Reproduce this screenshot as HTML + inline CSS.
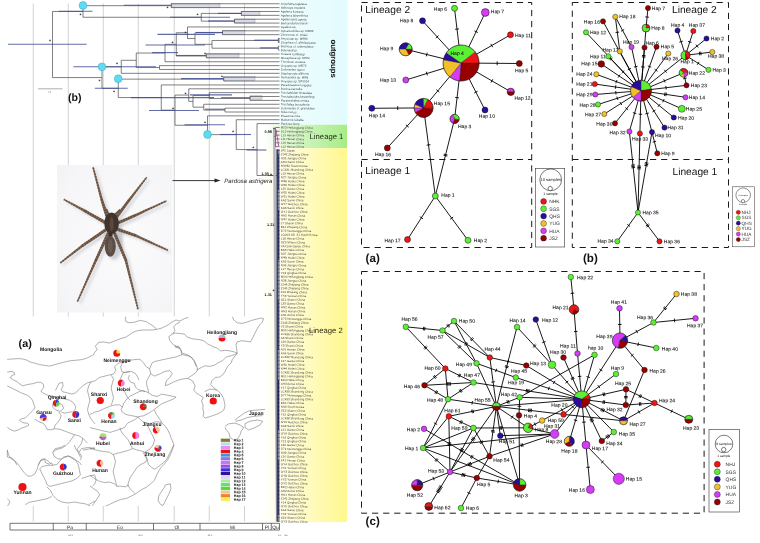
<!DOCTYPE html>
<html><head><meta charset="utf-8"><title>Pardosa astrigera phylogeography</title>
<style>html,body{margin:0;padding:0;background:#fff;} svg{display:block;} text{text-rendering:geometricPrecision;}</style></head>
<body><svg width="760" height="543" viewBox="0 0 760 543">
<rect width="760" height="543" fill="#fff"/>
<g stroke="#c6c6c6" stroke-width="0.8"><line x1="33.25" y1="3.5" x2="33.25" y2="521.5"/><line x1="68.25" y1="3.5" x2="68.25" y2="521.5"/><line x1="103.25" y1="3.5" x2="103.25" y2="521.5"/><line x1="138.25" y1="3.5" x2="138.25" y2="521.5"/><line x1="174.25" y1="3.5" x2="174.25" y2="521.5"/><line x1="209.25" y1="3.5" x2="209.25" y2="521.5"/><line x1="244.5" y1="3.5" x2="244.5" y2="521.5"/></g><defs>
<linearGradient id="gc" x1="0" x2="1" y1="0" y2="0"><stop offset="0" stop-color="#f0feff"/><stop offset="1" stop-color="#e2fbfd"/></linearGradient>
<linearGradient id="gg" x1="0" x2="1" y1="0" y2="0"><stop offset="0" stop-color="#f4fdf0" stop-opacity="0"/><stop offset="0.2" stop-color="#e6f9dc"/><stop offset="1" stop-color="#a6ec86"/></linearGradient>
<linearGradient id="gy" x1="0" x2="1" y1="0" y2="0"><stop offset="0" stop-color="#fffff4" stop-opacity="0"/><stop offset="0.22" stop-color="#fffde8"/><stop offset="1" stop-color="#fff88e"/></linearGradient>
</defs><rect x="279" y="0" width="68.5" height="124.7" fill="url(#gc)"/><rect x="262" y="124.7" width="85" height="23.4" fill="url(#gg)"/><rect x="258" y="148.1" width="89" height="374" fill="url(#gy)"/><g fill="#cfd2de" fill-opacity="0.8" stroke="#8a8fa6" stroke-width="0.4"><rect x="171.25" y="3.75" width="48.75" height="3.8499999999999996"/><rect x="241.25" y="11.5" width="18.75" height="3.8000000000000007"/><rect x="234.5" y="19.1" width="20.5" height="3.799999999999997"/><rect x="222.5" y="30.6" width="22.5" height="3.799999999999997"/><rect x="206.25" y="53.6" width="32.75" height="3.799999999999997"/><rect x="223.75" y="76.6" width="31.25" height="3.9000000000000057"/><rect x="250" y="95.8" width="12" height="3.799999999999997"/><rect x="278.3" y="38.3" width="1.1999999999999886" height="3.8000000000000043"/></g><path d="M171.25,3.75L279.50,3.75M171.25,7.62L279.50,7.62M171.25,3.75L171.25,7.62M83.00,5.68L171.25,5.68M241.25,11.48L279.50,11.48M241.25,15.35L279.50,15.35M241.25,11.48L241.25,15.35M201.25,13.41L241.25,13.41M234.50,19.21L279.50,19.21M234.50,23.08L279.50,23.08M234.50,19.21L234.50,23.08M201.25,21.15L234.50,21.15M201.25,13.41L201.25,21.15M83.00,17.28L201.25,17.28M83.00,5.68L83.00,17.28M52.50,11.48L83.00,11.48M187.50,26.95L279.50,26.95M222.50,30.81L279.50,30.81M222.50,34.68L279.50,34.68M222.50,30.81L222.50,34.68M195.00,32.74L222.50,32.74M278.30,38.54L279.50,38.54M278.30,42.41L279.50,42.41M278.30,38.54L278.30,42.41M212.00,40.48L278.30,40.48M278.30,46.28L279.50,46.28M278.30,50.14L279.50,50.14M278.30,46.28L278.30,50.14M212.00,48.21L278.30,48.21M212.00,40.48L212.00,48.21M195.00,44.34L212.00,44.34M195.00,32.74L195.00,44.34M187.50,38.54L195.00,38.54M187.50,26.95L187.50,38.54M176.25,32.74L187.50,32.74M206.25,54.01L279.50,54.01M206.25,57.87L279.50,57.87M206.25,54.01L206.25,57.87M176.25,55.94L206.25,55.94M176.25,32.74L176.25,55.94M165.00,44.34L176.25,44.34M165.00,61.74L279.50,61.74M165.00,44.34L165.00,61.74M136.25,53.04L165.00,53.04M159.50,65.61L279.50,65.61M159.50,69.47L279.50,69.47M159.50,65.61L159.50,69.47M136.25,67.54L159.50,67.54M136.25,53.04L136.25,67.54M121.25,60.29L136.25,60.29M121.25,73.34L279.50,73.34M121.25,60.29L121.25,73.34M102.00,66.81L121.25,66.81M223.75,77.20L279.50,77.20M223.75,81.07L279.50,81.07M223.75,77.20L223.75,81.07M118.25,79.14L223.75,79.14M161.25,84.94L279.50,84.94M188.75,88.80L279.50,88.80M209.25,92.67L279.50,92.67M250.00,96.53L279.50,96.53M250.00,100.40L279.50,100.40M250.00,96.53L250.00,100.40M209.25,98.47L250.00,98.47M209.25,92.67L209.25,98.47M193.00,95.57L209.25,95.57M203.75,104.27L279.50,104.27M225.00,108.13L279.50,108.13M225.00,112.00L279.50,112.00M225.00,108.13L225.00,112.00M203.75,110.06L225.00,110.06M203.75,104.27L203.75,110.06M193.00,107.17L203.75,107.17M193.00,95.57L193.00,107.17M188.75,101.37L193.00,101.37M188.75,88.80L188.75,101.37M175.00,95.08L188.75,95.08M207.50,115.86L279.50,115.86M236.25,119.73L279.50,119.73M257.00,123.60L279.50,123.60M257.00,175.50L275.00,175.50M257.00,123.60L257.00,175.50M236.25,149.55L257.00,149.55M236.25,119.73L236.25,149.55M207.50,134.64L236.25,134.64M207.50,115.86L207.50,134.64M175.00,125.25L207.50,125.25M175.00,95.08L175.00,125.25M161.25,110.17L175.00,110.17M161.25,84.94L161.25,110.17M118.25,97.55L161.25,97.55M118.25,79.14L118.25,97.55M102.00,88.34L118.25,88.34M102.00,66.81L102.00,88.34M52.50,77.58L102.00,77.58M52.50,11.48L52.50,77.58" stroke="#4a4a4a" stroke-width="0.7" fill="none"/><g stroke="#3a4690" stroke-opacity="0.8" stroke-width="1.1"><line x1="8" y1="44.25" x2="86.75" y2="44.25"/><line x1="58.75" y1="11.25" x2="92.5" y2="11.25"/><line x1="123.75" y1="5.2" x2="171.25" y2="5.2"/><line x1="170" y1="17.2" x2="230" y2="17.2"/><line x1="218" y1="13.4" x2="241.25" y2="13.4"/><line x1="208" y1="21" x2="234.5" y2="21"/><line x1="73.4" y1="66.8" x2="156" y2="66.8"/><line x1="94.8" y1="88.3" x2="127.7" y2="88.3"/><line x1="157.5" y1="34.4" x2="215" y2="34.4"/><line x1="145.5" y1="45" x2="205" y2="45"/><line x1="196" y1="32.5" x2="222.5" y2="32.5"/><line x1="176" y1="55.5" x2="206.25" y2="55.5"/><line x1="181" y1="78.6" x2="223.75" y2="78.6"/><line x1="131" y1="97.6" x2="214" y2="97.6"/><line x1="221" y1="97.7" x2="250" y2="97.7"/><line x1="149" y1="110.5" x2="199" y2="110.5"/><line x1="184.5" y1="124.8" x2="225" y2="124.8"/><line x1="220" y1="134.5" x2="251" y2="134.5"/><line x1="246.6" y1="150" x2="266.5" y2="150"/><line x1="254" y1="40.2" x2="278.3" y2="40.2"/><line x1="260" y1="47.9" x2="278.3" y2="47.9"/><line x1="152" y1="52.6" x2="178" y2="52.6"/><line x1="205" y1="109.2" x2="225" y2="109.2"/><line x1="190" y1="94.85" x2="232" y2="94.85"/><line x1="268" y1="175.5" x2="277" y2="175.5"/></g><path d="M273,128.8H275.6L276.6,300L277.4,521.5H275.9L274.1,300Z" fill="#b4b5bc"/><path d="M276.3,149H279.6V521.5H277.4L276.6,300Z" fill="#4e5270" opacity="0.7"/><path d="M277.2,150.45H279.6M277.2,154.28H279.6M277.2,158.10H279.6M277.2,161.93H279.6M277.2,165.75H279.6M277.2,169.57H279.6M277.2,173.40H279.6M277.2,177.22H279.6M277.2,181.05H279.6M277.2,184.88H279.6M277.2,188.70H279.6M277.2,192.53H279.6M277.2,196.35H279.6M277.2,200.18H279.6M277.2,204.00H279.6M277.2,207.82H279.6M277.2,211.65H279.6M277.2,215.48H279.6M277.2,219.30H279.6M277.2,223.12H279.6M277.2,226.95H279.6M277.2,230.78H279.6M277.2,234.60H279.6M277.2,238.43H279.6M277.2,242.25H279.6M277.2,246.07H279.6M277.2,249.90H279.6M277.2,253.73H279.6M277.2,257.55H279.6M277.2,261.38H279.6M277.2,265.20H279.6M277.2,269.02H279.6M277.2,272.85H279.6M277.2,276.68H279.6M277.2,280.50H279.6M277.2,284.33H279.6M277.2,288.15H279.6M277.2,291.98H279.6M277.2,295.80H279.6M277.2,299.62H279.6M277.2,303.45H279.6M277.2,307.27H279.6M277.2,311.10H279.6M277.2,314.93H279.6M277.2,318.75H279.6M277.2,322.58H279.6M277.2,326.40H279.6M277.2,330.23H279.6M277.2,334.05H279.6M277.2,337.88H279.6M277.2,341.70H279.6M277.2,345.52H279.6M277.2,349.35H279.6M277.2,353.18H279.6M277.2,357.00H279.6M277.2,360.83H279.6M277.2,364.65H279.6M277.2,368.48H279.6M277.2,372.30H279.6M277.2,376.12H279.6M277.2,379.95H279.6M277.2,383.78H279.6M277.2,387.60H279.6M277.2,391.43H279.6M277.2,395.25H279.6M277.2,399.07H279.6M277.2,402.90H279.6M277.2,406.73H279.6M277.2,410.55H279.6M277.2,414.38H279.6M277.2,418.20H279.6M277.2,422.03H279.6M277.2,425.85H279.6M277.2,429.68H279.6M277.2,433.50H279.6M277.2,437.32H279.6M277.2,441.15H279.6M277.2,444.98H279.6M277.2,448.80H279.6M277.2,452.62H279.6M277.2,456.45H279.6M277.2,460.28H279.6M277.2,464.10H279.6M277.2,467.93H279.6M277.2,471.75H279.6M277.2,475.57H279.6M277.2,479.40H279.6M277.2,483.23H279.6M277.2,487.05H279.6M277.2,490.88H279.6M277.2,494.70H279.6M277.2,498.53H279.6M277.2,502.35H279.6M277.2,506.18H279.6M277.2,510.00H279.6M277.2,513.83H279.6M277.2,517.65H279.6M277.2,521.48H279.6" stroke="#2a2f6a" stroke-width="0.6" fill="none"/><path d="M277.2,149.7V521.5" stroke="#24285e" stroke-width="1.0" fill="none"/><path d="M278.3,155V190M278.6,210V260M278.2,300V350M278.5,380V430M278.3,460V515" stroke="#1c2050" stroke-width="0.9" fill="none"/><path d="M275.5,127.50H279.6M275.5,131.32H279.6M275.5,135.15H279.6M275.5,138.97H279.6M275.5,142.80H279.6M275.5,146.62H279.6M275.5,127.50V146.62M274,136.3H275.5M276.2,130L278.6,146" stroke="#9c3a92" stroke-width="0.8" fill="none"/><circle cx="83" cy="5.5" r="3.9" fill="#5fdcef" stroke="#3aa6c4" stroke-width="0.5"/><circle cx="102" cy="66.8" r="3.9" fill="#5fdcef" stroke="#3aa6c4" stroke-width="0.5"/><circle cx="118.25" cy="78.75" r="3.9" fill="#5fdcef" stroke="#3aa6c4" stroke-width="0.5"/><circle cx="207.5" cy="134.5" r="3.9" fill="#5fdcef" stroke="#3aa6c4" stroke-width="0.5"/><g font-family="Liberation Sans, Arial, sans-serif" font-size="5.2" font-weight="bold" fill="#1a1a1a" text-anchor="middle"><text x="80.5" y="17.1">*</text><text x="50" y="43.35">*</text><text x="117" y="66.1">*</text><text x="99.5" y="83.1">*</text><text x="114" y="93.85">*</text><text x="167.5" y="10.1">*</text><text x="197.5" y="17.1">*</text><text x="185.5" y="34.6">*</text><text x="172.5" y="45.1">*</text><text x="205" y="56.1">*</text><text x="222" y="79.1">*</text><text x="185.5" y="96.35">*</text><text x="173" y="111.1">*</text><text x="205" y="124.6">*</text><text x="233" y="134.1">*</text><text x="253.3" y="150.4">*</text><text x="274" y="130.6">*</text><text x="271" y="176.9">*</text><text x="273.4" y="293.1">*</text></g><g font-family="Liberation Sans, Arial, sans-serif" font-size="3.8" font-weight="bold" fill="#1a1a1a"><text x="264.6" y="133">0.98</text><text x="261.5" y="175.3">1.00</text><text x="267" y="226">1.21</text><text x="264.6" y="296.2">1.31</text></g><g font-family="Liberation Sans, Arial, sans-serif" font-size="3" fill="#3c3c3c"><text transform="translate(280.8 4.800) rotate(0.4)">Anyphaea tugelana</text><text transform="translate(280.8 8.666) rotate(0.4)">Selenops insularis</text><text transform="translate(280.8 12.532) rotate(0.4)">Agelena koreana</text><text transform="translate(280.8 16.398) rotate(0.4)">Agelena labyrinthica</text><text transform="translate(280.8 20.264) rotate(0.4)">Agelenopsis aperta</text><text transform="translate(280.8 24.130) rotate(0.4)">Bertrandia bertrandi</text><text transform="translate(280.8 27.996) rotate(0.4)">Ayatkos sp.</text><text transform="translate(280.8 31.862) rotate(0.4)">Aphantochilus sp. MR96</text><text transform="translate(280.8 35.728) rotate(0.4)">Zimiromus cf. zeteki</text><text transform="translate(280.8 39.594) rotate(0.4)">Amycinae sp. MR96</text><text transform="translate(280.8 43.460) rotate(0.4)">Strophius cf. albofasciatus</text><text transform="translate(280.8 47.326) rotate(0.4)">Bistrious cf. tuberculatus</text><text transform="translate(280.8 51.192) rotate(0.4)">Bdymastrup.</text><text transform="translate(280.8 55.058) rotate(0.4)">Tinaeus furhlbergi</text><text transform="translate(280.8 58.924) rotate(0.4)">Mecaphesa sp. SP20</text><text transform="translate(280.8 62.790) rotate(0.4)">Thomisus onustus</text><text transform="translate(280.8 66.656) rotate(0.4)">Oxyopes sp. MR72</text><text transform="translate(280.8 70.522) rotate(0.4)">Dolomedes raptor</text><text transform="translate(280.8 74.388) rotate(0.4)">Stephanopis altifrons</text><text transform="translate(280.8 78.254) rotate(0.4)">Nematodes sp. MR8</text><text transform="translate(280.8 82.120) rotate(0.4)">Oxyopes sp. SP0014</text><text transform="translate(280.8 85.986) rotate(0.4)">Paradosaurus longipes</text><text transform="translate(280.8 89.852) rotate(0.4)">Borrhia karoella</text><text transform="translate(280.8 93.718) rotate(0.4)">Trechaleidae bicaudata</text><text transform="translate(280.8 97.584) rotate(0.4)">Trechaleoides keyserlingi</text><text transform="translate(280.8 101.450) rotate(0.4)">Paratrechalea ornata</text><text transform="translate(280.8 105.316) rotate(0.4)">Trechalea bucculenta</text><text transform="translate(280.8 109.182) rotate(0.4)">Dolomedes cf. grandidieri</text><text transform="translate(280.8 113.048) rotate(0.4)">Nilus curtus</text><text transform="translate(280.8 116.914) rotate(0.4)">Pisaurina mira</text><text transform="translate(280.8 120.780) rotate(0.4)">Maburnia fulvella</text><text transform="translate(280.8 124.646) rotate(0.4)">Pardosa laura</text><text transform="translate(280.8 128.550) rotate(0.4)">M53 Heilongjiang China</text><text transform="translate(280.8 132.375) rotate(0.4)">D15 Heilongjiang China</text><text transform="translate(280.8 136.200) rotate(0.4)">L15 Henan China</text><text transform="translate(280.8 140.025) rotate(0.4)">L11 Henan China</text><text transform="translate(280.8 143.850) rotate(0.4)">L16 Henan China</text><text transform="translate(280.8 147.675) rotate(0.4)">L12 Henan China</text><text transform="translate(280.8 151.500) rotate(0.4)">JP5 Japan</text><text transform="translate(280.8 155.325) rotate(0.4)">ZJ42 Zhejiang China</text><text transform="translate(280.8 159.150) rotate(0.4)">N35 Jiangsu China</text><text transform="translate(280.8 162.975) rotate(0.4)">AH4 Sanxi China</text><text transform="translate(280.8 166.800) rotate(0.4)">NS681 South Korea</text><text transform="translate(280.8 170.625) rotate(0.4)">LC431 Shandong China</text><text transform="translate(280.8 174.450) rotate(0.4)">L19 Henan China</text><text transform="translate(280.8 178.275) rotate(0.4)">N27 Jiangsu China</text><text transform="translate(280.8 182.100) rotate(0.4)">W48 Hubei China</text><text transform="translate(280.8 185.925) rotate(0.4)">W46 Hubei China</text><text transform="translate(280.8 189.750) rotate(0.4)">L25 Gansu China</text><text transform="translate(280.8 193.575) rotate(0.4)">W55 Hubei China</text><text transform="translate(280.8 197.400) rotate(0.4)">W51 Hubei China</text><text transform="translate(280.8 201.225) rotate(0.4)">KA2 Sanxi China</text><text transform="translate(280.8 205.050) rotate(0.4)">GY7 Guizhou China</text><text transform="translate(280.8 208.875) rotate(0.4)">KA3 Sanxi China</text><text transform="translate(280.8 212.700) rotate(0.4)">GY1 Guizhou China</text><text transform="translate(280.8 216.525) rotate(0.4)">HN5 Hunan China</text><text transform="translate(280.8 220.350) rotate(0.4)">W47 Hubei China</text><text transform="translate(280.8 224.175) rotate(0.4)">J7 Shanxi China</text><text transform="translate(280.8 228.000) rotate(0.4)">B41 Zhejiang China</text><text transform="translate(280.8 231.825) rotate(0.4)">D72 Neimenggu China</text><text transform="translate(280.8 235.650) rotate(0.4)">LG003 SD_21 South Korea</text><text transform="translate(280.8 239.475) rotate(0.4)">L18 Henan China</text><text transform="translate(280.8 243.300) rotate(0.4)">SZ3 Shanxi China</text><text transform="translate(280.8 247.125) rotate(0.4)">YAX106 Gansu China</text><text transform="translate(280.8 250.950) rotate(0.4)">BD5 Hebei China</text><text transform="translate(280.8 254.775) rotate(0.4)">N37 Jiangsu China</text><text transform="translate(280.8 258.600) rotate(0.4)">W49 Hubei China</text><text transform="translate(280.8 262.425) rotate(0.4)">KA5 Sanxi China</text><text transform="translate(280.8 266.250) rotate(0.4)">N36 Jiangsu China</text><text transform="translate(280.8 270.075) rotate(0.4)">L17 Henan China</text><text transform="translate(280.8 273.900) rotate(0.4)">Y13 Qinghai China</text><text transform="translate(280.8 277.725) rotate(0.4)">M54 Heilongjiang China</text><text transform="translate(280.8 281.550) rotate(0.4)">N38 Jiangsu China</text><text transform="translate(280.8 285.375) rotate(0.4)">ZJ46 Zhejiang China</text><text transform="translate(280.8 289.200) rotate(0.4)">ZJ45 Zhejiang China</text><text transform="translate(280.8 293.025) rotate(0.4)">ZJ4 Zhejiang China</text><text transform="translate(280.8 296.850) rotate(0.4)">YX3 Yunnan China</text><text transform="translate(280.8 300.675) rotate(0.4)">SZ1 Shanxi China</text><text transform="translate(280.8 304.500) rotate(0.4)">L29 Gansu China</text><text transform="translate(280.8 308.325) rotate(0.4)">HN2 Hunan China</text><text transform="translate(280.8 312.150) rotate(0.4)">HN3 Hunan China</text><text transform="translate(280.8 315.975) rotate(0.4)">AH1 Anhui China</text><text transform="translate(280.8 319.800) rotate(0.4)">D73 Neimenggu China</text><text transform="translate(280.8 323.625) rotate(0.4)">ZJ43 Zhejiang China</text><text transform="translate(280.8 327.450) rotate(0.4)">Y2 Shanxi China</text><text transform="translate(280.8 331.275) rotate(0.4)">M55 Heilongjiang China</text><text transform="translate(280.8 335.100) rotate(0.4)">LC436 Shandong China</text><text transform="translate(280.8 338.925) rotate(0.4)">A3 Shanxi China</text><text transform="translate(280.8 342.750) rotate(0.4)">L26 Gansu China</text><text transform="translate(280.8 346.575) rotate(0.4)">Y3 Shanxi China</text><text transform="translate(280.8 350.400) rotate(0.4)">A70 Henan China</text><text transform="translate(280.8 354.225) rotate(0.4)">KA6 Sanxi China</text><text transform="translate(280.8 358.050) rotate(0.4)">LC432 Shandong China</text><text transform="translate(280.8 361.875) rotate(0.4)">L27 Gansu China</text><text transform="translate(280.8 365.700) rotate(0.4)">W50 Hubei China</text><text transform="translate(280.8 369.525) rotate(0.4)">W44 Hubei China</text><text transform="translate(280.8 373.350) rotate(0.4)">LC435 Shandong China</text><text transform="translate(280.8 377.175) rotate(0.4)">M51 Heilongjiang China</text><text transform="translate(280.8 381.000) rotate(0.4)">BD4 Hebei China</text><text transform="translate(280.8 384.825) rotate(0.4)">AH3 Anhui China</text><text transform="translate(280.8 388.650) rotate(0.4)">Y17 Qinghai China</text><text transform="translate(280.8 392.475) rotate(0.4)">LC439 Shandong China</text><text transform="translate(280.8 396.300) rotate(0.4)">D77 Neimenggu China</text><text transform="translate(280.8 400.125) rotate(0.4)">LC433 Shandong China</text><text transform="translate(280.8 403.950) rotate(0.4)">BD1 Hebei China</text><text transform="translate(280.8 407.775) rotate(0.4)">NS6 South Korea</text><text transform="translate(280.8 411.600) rotate(0.4)">SZ2 Shanxi China</text><text transform="translate(280.8 415.425) rotate(0.4)">Y15 Qinghai China</text><text transform="translate(280.8 419.250) rotate(0.4)">LC438 Shandong China</text><text transform="translate(280.8 423.075) rotate(0.4)">GY9 Guizhou China</text><text transform="translate(280.8 426.900) rotate(0.4)">KA9 Sanxi China</text><text transform="translate(280.8 430.725) rotate(0.4)">L21 Gansu China</text><text transform="translate(280.8 434.550) rotate(0.4)">GY6 Guizhou China</text><text transform="translate(280.8 438.375) rotate(0.4)">Y16 Qinghai China</text><text transform="translate(280.8 442.200) rotate(0.4)">Y12 Qinghai China</text><text transform="translate(280.8 446.025) rotate(0.4)">L30 Gansu China</text><text transform="translate(280.8 449.850) rotate(0.4)">D74 Neimenggu China</text><text transform="translate(280.8 453.675) rotate(0.4)">N39 Jiangsu China</text><text transform="translate(280.8 457.500) rotate(0.4)">L20 Gansu China</text><text transform="translate(280.8 461.325) rotate(0.4)">KF1 Henan China</text><text transform="translate(280.8 465.150) rotate(0.4)">GY4 Guizhou China</text><text transform="translate(280.8 468.975) rotate(0.4)">YX1 Yunnan China</text><text transform="translate(280.8 472.800) rotate(0.4)">GY3 Guizhou China</text><text transform="translate(280.8 476.625) rotate(0.4)">GY8 Guizhou China</text><text transform="translate(280.8 480.450) rotate(0.4)">YX2 Yunnan China</text><text transform="translate(280.8 484.275) rotate(0.4)">GY2 Guizhou China</text><text transform="translate(280.8 488.100) rotate(0.4)">BD2 Hebei China</text><text transform="translate(280.8 491.925) rotate(0.4)">AH2 Anhui China</text><text transform="translate(280.8 495.750) rotate(0.4)">HN1 Hunan China</text><text transform="translate(280.8 499.575) rotate(0.4)">ZJ41 Zhejiang China</text><text transform="translate(280.8 503.400) rotate(0.4)">Y14 Qinghai China</text><text transform="translate(280.8 507.225) rotate(0.4)">GY5 Guizhou China</text><text transform="translate(280.8 511.050) rotate(0.4)">KA4 Sanxi China</text><text transform="translate(280.8 514.875) rotate(0.4)">YX4 Yunnan China</text><text transform="translate(280.8 518.700) rotate(0.4)">SZ4 Shanxi China</text><text transform="translate(280.8 522.525) rotate(0.4)">GY3 Guizhou China</text></g><text transform="translate(331,39.4) rotate(90)" font-family="Liberation Sans, Arial, sans-serif" font-size="7.8" font-weight="bold" fill="#111">outgroups</text><text x="309.6" y="139.4" font-family="Liberation Sans, Arial, sans-serif" font-size="7.7" fill="#1a2a10">Lineage 1</text><text x="308.9" y="332.5" font-family="Liberation Sans, Arial, sans-serif" font-size="7.7" fill="#2a2a10">Lineage 2</text><text x="68.0" y="100.5" font-family="Liberation Sans, Arial, sans-serif" font-size="10.6" font-weight="bold" fill="#111">(b)</text><line x1="38" y1="88.8" x2="62.5" y2="88.8" stroke="#9a9a9a" stroke-width="0.8"/><text x="49.5" y="92.6" font-family="Liberation Sans, Arial, sans-serif" font-size="2.4" fill="#777" text-anchor="middle">7.0</text><line x1="171" y1="180.6" x2="216" y2="180.6" stroke="#222" stroke-width="0.9"/><path d="M214.5,178.6L220.5,180.6L214.5,182.6Z" fill="#222"/><text x="224.3" y="182.6" font-family="Liberation Sans, Arial, sans-serif" font-size="6.1" font-style="italic" fill="#222">Pardosa astrigera</text><defs><filter id="blur1" x="-30%" y="-30%" width="160%" height="160%"><feGaussianBlur stdDeviation="1.5"/></filter><filter id="blur2" x="-30%" y="-30%" width="160%" height="160%"><feGaussianBlur stdDeviation="0.35"/></filter><radialGradient id="photobg" cx="0.55" cy="0.5" r="0.8"><stop offset="0" stop-color="#fbfbfc"/><stop offset="0.7" stop-color="#f6f6f8"/><stop offset="1" stop-color="#f0f1f3"/></radialGradient></defs><rect x="57" y="165" width="115.5" height="147.5" fill="url(#photobg)"/><path d="M111.72,219.69L110.70,216.71L109.68,213.73L108.66,210.75L107.63,207.78L106.61,204.80L105.60,201.86L104.07,196.40L102.53,190.92L100.99,185.44L99.45,179.96L97.91,174.47L96.37,168.99L94.83,169.41L96.22,174.93L97.62,180.44L99.01,185.96L100.40,191.48L101.80,197.00L103.20,202.54L104.09,205.60L104.97,208.62L105.84,211.65L106.72,214.67L107.60,217.69L108.48,220.71ZM119.76,221.22L121.94,218.17L124.11,215.13L126.28,212.08L128.46,209.04L130.63,205.99L132.80,202.96L135.66,199.12L138.54,195.27L141.41,191.43L144.29,187.58L147.16,183.73L150.03,179.89L148.77,178.91L145.77,182.67L142.78,186.42L139.79,190.17L136.80,193.93L133.80,197.68L130.80,201.44L128.50,204.41L126.21,207.36L123.92,210.32L121.62,213.27L119.33,216.23L117.04,219.18ZM110.44,224.22L106.74,222.20L103.03,220.19L99.33,218.17L95.62,216.15L91.92,214.13L88.21,212.11L84.63,210.24L81.06,208.37L77.49,206.50L73.92,204.63L70.35,202.77L66.78,200.90L66.02,202.30L69.51,204.30L73.01,206.30L76.51,208.30L80.01,210.30L83.50,212.30L86.99,214.29L90.61,216.44L94.24,218.58L97.87,220.73L101.50,222.88L105.13,225.03L108.76,227.18ZM119.77,227.26L122.83,225.86L125.88,224.46L128.94,223.05L131.99,221.65L135.04,220.25L138.12,218.84L143.36,216.32L148.60,213.80L153.83,211.28L159.07,208.76L164.30,206.24L169.54,203.73L168.86,202.27L163.56,204.66L158.27,207.04L152.97,209.42L147.67,211.80L142.37,214.18L137.08,216.56L133.99,217.82L130.88,219.08L127.76,220.35L124.65,221.61L121.54,222.88L118.43,224.14ZM108.64,229.79L104.52,232.69L100.40,235.58L96.27,238.48L92.15,241.38L88.02,244.27L83.87,247.19L80.26,250.09L76.69,252.97L73.12,255.84L69.55,258.72L65.98,261.59L62.41,264.47L63.39,265.73L67.05,262.97L70.72,260.22L74.38,257.46L78.04,254.70L81.71,251.94L85.33,249.21L89.51,246.46L93.72,243.69L97.93,240.92L102.14,238.15L106.35,235.38L110.56,232.61ZM118.55,232.81L121.66,233.79L124.77,234.77L127.87,235.75L130.98,236.73L134.09,237.70L137.12,238.66L142.58,241.05L148.08,243.47L153.58,245.88L159.07,248.30L164.57,250.71L170.07,253.13L170.73,251.67L165.30,249.12L159.86,246.57L154.42,244.02L148.99,241.47L143.55,238.91L138.08,236.34L134.94,235.20L131.88,234.07L128.83,232.95L125.77,231.83L122.71,230.71L119.65,229.59ZM109.56,234.49L107.54,239.02L105.53,243.55L103.51,248.08L101.50,252.61L99.48,257.14L97.46,261.68L94.43,268.67L91.40,275.65L88.36,282.63L85.33,289.61L82.30,296.59L79.27,303.57L80.73,304.23L83.90,297.31L87.07,290.39L90.24,283.47L93.40,276.55L96.57,269.63L99.74,262.72L101.89,258.26L104.04,253.79L106.19,249.32L108.34,244.85L110.49,240.38L112.64,235.91ZM115.53,235.86L117.48,240.33L119.44,244.80L121.39,249.27L123.34,253.74L125.29,258.21L127.21,262.57L129.29,270.68L131.40,278.86L133.51,287.05L135.61,295.23L137.72,303.41L139.82,311.59L141.38,311.21L139.42,302.99L137.46,294.77L135.49,286.55L133.53,278.34L131.57,270.12L129.59,261.83L127.74,257.19L125.92,252.66L124.11,248.13L122.30,243.60L120.48,239.07L118.67,234.54Z" fill="#a9b0bc" filter="url(#blur1)" opacity="0.55"/><ellipse cx="114" cy="238" rx="9" ry="22" fill="#a0a6b2" filter="url(#blur1)" opacity="0.5"/><g filter="url(#blur2)"><path d="M109.03,217.52L108.03,214.53L107.03,211.55L106.03,208.56L105.03,205.58L104.04,202.59L103.05,199.64L101.48,194.19L99.91,188.72L98.34,183.25L96.77,177.78L95.20,172.30L93.63,166.83L92.37,167.17L93.73,172.70L95.10,178.22L96.46,183.75L97.82,189.28L99.18,194.81L100.55,200.36L101.46,203.41L102.37,206.42L103.27,209.44L104.17,212.45L105.07,215.47L105.97,218.48ZM117.08,218.96L119.28,215.93L121.47,212.90L123.66,209.87L125.86,206.84L128.05,203.81L130.24,200.79L133.08,196.93L135.92,193.06L138.77,189.20L141.62,185.33L144.47,181.46L147.31,177.60L146.29,176.80L143.27,180.54L140.25,184.27L137.23,188.00L134.21,191.74L131.19,195.47L128.16,199.21L125.88,202.19L123.61,205.16L121.34,208.13L119.06,211.10L116.79,214.07L114.52,217.04ZM107.79,222.11L104.10,220.07L100.41,218.03L96.72,215.99L93.02,213.95L89.33,211.91L85.63,209.86L82.04,208.02L78.45,206.18L74.87,204.34L71.28,202.51L67.70,200.67L64.11,198.83L63.49,199.97L66.97,202.00L70.45,204.03L73.93,206.06L77.41,208.08L80.89,210.11L84.37,212.14L88.00,214.26L91.64,216.38L95.28,218.51L98.93,220.64L102.57,222.76L106.21,224.89ZM117.14,224.97L120.20,223.59L123.26,222.21L126.33,220.83L129.39,219.45L132.45,218.07L135.54,216.68L140.77,214.13L145.99,211.58L151.21,209.03L156.43,206.49L161.65,203.94L166.87,201.39L166.33,200.21L161.01,202.56L155.70,204.91L150.39,207.27L145.08,209.62L139.76,211.97L134.46,214.32L131.38,215.59L128.28,216.88L125.17,218.17L122.07,219.46L118.97,220.74L115.86,222.03ZM106.10,227.68L101.96,230.55L97.82,233.43L93.68,236.30L89.55,239.18L85.41,242.05L81.24,244.95L77.65,247.88L74.10,250.78L70.55,253.68L67.00,256.58L63.45,259.49L59.90,262.39L60.70,263.41L64.38,260.68L68.07,257.95L71.75,255.22L75.43,252.49L79.12,249.76L82.76,247.05L86.93,244.28L91.12,241.49L95.32,238.70L99.51,235.91L103.70,233.12L107.90,230.32ZM115.98,230.51L119.08,231.52L122.18,232.52L125.28,233.52L128.38,234.53L131.48,235.53L134.50,236.50L139.97,238.87L145.49,241.25L151.00,243.64L156.51,246.02L162.02,248.41L167.53,250.79L168.07,249.61L162.65,247.03L157.23,244.44L151.80,241.86L146.38,239.28L140.96,236.70L135.50,234.10L132.35,232.97L129.28,231.87L126.22,230.78L123.15,229.68L120.08,228.58L117.02,227.49ZM107.05,232.33L105.01,236.85L102.97,241.37L100.93,245.89L98.90,250.41L96.86,254.93L94.82,259.46L91.81,266.46L88.81,273.46L85.81,280.45L82.81,287.45L79.81,294.44L76.81,301.44L77.99,301.96L81.19,295.06L84.39,288.15L87.59,281.25L90.79,274.34L93.99,267.44L97.18,260.54L99.31,256.07L101.44,251.59L103.57,247.11L105.69,242.63L107.82,238.15L109.95,233.67ZM113.02,233.62L114.95,238.10L116.88,242.58L118.81,247.06L120.74,251.54L122.67,256.02L124.56,260.38L126.68,268.49L128.82,276.66L130.95,284.83L133.09,293.01L135.23,301.18L137.37,309.36L138.63,309.04L136.70,300.82L134.77,292.59L132.85,284.37L130.92,276.14L128.99,267.91L127.04,259.62L125.16,254.98L123.32,250.46L121.49,245.94L119.65,241.42L117.81,236.90L115.98,232.38Z" fill="#836752"/><path d="M107.5,218L101.8,200" stroke="#4a392d" stroke-width="2.9" stroke-dasharray="1.2,1.4" fill="none" opacity="0.6"/><path d="M101.8,200L93,167" stroke="#4a3a2e" stroke-width="2.2" stroke-dasharray="1.3,1.6" fill="none" opacity="0.5"/><path d="M115.8,218L129.2,200" stroke="#4a392d" stroke-width="2.9" stroke-dasharray="1.2,1.4" fill="none" opacity="0.6"/><path d="M129.2,200L146.8,177.2" stroke="#4a3a2e" stroke-width="2.2" stroke-dasharray="1.3,1.6" fill="none" opacity="0.5"/><path d="M107,223.5L85,211" stroke="#4a392d" stroke-width="2.9" stroke-dasharray="1.2,1.4" fill="none" opacity="0.6"/><path d="M85,211L63.8,199.4" stroke="#4a3a2e" stroke-width="2.2" stroke-dasharray="1.3,1.6" fill="none" opacity="0.5"/><path d="M116.5,223.5L135,215.5" stroke="#4a392d" stroke-width="2.9" stroke-dasharray="1.2,1.4" fill="none" opacity="0.6"/><path d="M135,215.5L166.6,200.8" stroke="#4a3a2e" stroke-width="2.2" stroke-dasharray="1.3,1.6" fill="none" opacity="0.5"/><path d="M107,229L82,246" stroke="#4a392d" stroke-width="2.9" stroke-dasharray="1.2,1.4" fill="none" opacity="0.6"/><path d="M82,246L60.3,262.9" stroke="#4a3a2e" stroke-width="2.2" stroke-dasharray="1.3,1.6" fill="none" opacity="0.5"/><path d="M116.5,229L135,235.3" stroke="#4a392d" stroke-width="2.9" stroke-dasharray="1.2,1.4" fill="none" opacity="0.6"/><path d="M135,235.3L167.8,250.2" stroke="#4a3a2e" stroke-width="2.2" stroke-dasharray="1.3,1.6" fill="none" opacity="0.5"/><path d="M108.5,233L96,260" stroke="#4a392d" stroke-width="2.9" stroke-dasharray="1.2,1.4" fill="none" opacity="0.6"/><path d="M96,260L77.4,301.7" stroke="#4a3a2e" stroke-width="2.2" stroke-dasharray="1.3,1.6" fill="none" opacity="0.5"/><path d="M114.5,233L125.8,260" stroke="#4a392d" stroke-width="2.9" stroke-dasharray="1.2,1.4" fill="none" opacity="0.6"/><path d="M125.8,260L138,309.2" stroke="#4a3a2e" stroke-width="2.2" stroke-dasharray="1.3,1.6" fill="none" opacity="0.5"/><path d="M108.5,214L106.5,209.5M115.5,214L119.8,210" stroke="#6a5240" stroke-width="1.8" stroke-linecap="round"/><ellipse cx="111.6" cy="223.4" rx="7.3" ry="10.8" fill="#41362f"/><ellipse cx="111.6" cy="224" rx="2" ry="7" fill="#6a4e40" opacity="0.7"/><ellipse cx="110.3" cy="246.4" rx="5.5" ry="10.3" fill="#5a4d45"/><ellipse cx="110.3" cy="246" rx="2.4" ry="7" fill="#6e6056" opacity="0.8"/><rect x="108.5" y="232.5" width="4" height="4" fill="#3a2f29"/></g><rect x="7" y="316.5" width="258.5" height="189.5" fill="#fff"/><path d="M55.4,390.5L59.0,383.4L62.5,382.3L63.1,385.8L61.3,389.4L62.5,391.7L67.3,392.9L72.0,394.1L75.5,392.9L79.1,389.4L82.7,385.8L87.4,382.8L92.1,381.7L95.7,380.5L99.2,377.5L104.0,376.3L108.7,375.1L113.5,374.0L115.8,370.4L114.6,366.8L118.2,363.3L123.0,362.1L128.0,360.5L133.0,359.8L137.8,359.3L140.0,359.4M111.1,375.1L113.5,378.7L112.3,383.4L111.1,388.2L112.3,392.9L113.5,397.7L112.3,402.4L111.1,405.0M122.9,362.1L120.6,366.8L121.8,371.6L125.3,372.8L130.0,371.6M122.9,389.4L125.3,392.9L127.7,397.7L130.0,400.0M7.2,359.3L12.2,359.0L18.2,358.6L22.9,359.0L27.1,360.2L30.1,362.0L34.9,363.2L39.7,364.6L44.5,365.3L48.7,366.1L52.8,365.3L57.6,363.8L62.4,362.6L67.2,361.4L72.0,360.5L76.8,360.2L81.6,359.6L86.3,358.4L89.9,356.6L93.5,354.8L94.8,352.1L97.2,349.7L95.4,346.1L98.4,342.5L103.2,341.9L109.1,343.1L113.9,341.3L119.9,338.9L125.9,337.1L129.5,334.7L133.1,332.3L137.8,330.6L142.6,330.0L147.4,330.0L152.2,330.0L156.4,329.4L154.6,327.0L151.0,324.6L146.2,321.6L140.2,320.4L134.3,322.2L129.5,322.8L125.9,321.6L125.3,319.2L125.9,316.8M156.4,329.4L162.0,328.0L168.0,325.0L172.0,322.0L176.0,320.0L179.8,321.0L184.6,318.6L188.2,317.4M180.0,322.2L176.1,324.0L173.7,327.0L174.9,330.6L172.5,334.1L168.9,336.5L169.5,340.1L172.5,343.7L176.1,347.3L180.0,348.5M232.4,316.8L233.6,319.8L237.2,322.8L242.0,323.4L246.8,322.2L251.6,320.4L256.3,319.2L261.1,318.0L263.5,318.6L262.3,322.2L259.9,324.6L257.5,328.2L255.1,332.9L252.8,337.7L250.4,341.9L246.8,341.3L242.0,340.7L237.2,341.9L236.0,344.9L236.6,348.5L237.2,353.3M172.5,334.1L175.0,333.0L179.8,333.5L184.6,334.1L187.0,337.1L192.9,338.9L198.9,339.5L203.7,340.7L207.3,343.7L210.9,345.5L214.5,347.3L216.9,347.9L220.5,350.9L225.2,350.3L230.0,350.9L234.8,352.1L237.2,353.3M175.0,347.3L178.6,346.1L181.0,349.7L182.2,353.3L187.0,354.5L190.6,356.9L194.1,360.5L196.5,365.2L197.7,370.0L195.9,372.4L192.9,374.8L189.4,377.2L187.8,378.5M196.5,370.0L201.3,367.6L204.9,365.8L209.7,366.4L214.5,365.2L218.1,362.8L222.8,360.5L226.4,356.9L231.2,355.7L234.8,354.5L237.2,353.3M237.2,353.3L232.4,359.3L231.2,362.8L227.6,366.4L225.2,371.2L222.8,374.8L219.3,377.2L215.4,377.3L211.8,380.9L210.6,384.5L214.2,388.1L217.8,390.5L221.3,394.1L223.7,398.9L224.9,404.8L225.0,406.2L223.8,410.0L220.6,412.5L216.2,414.4L211.2,416.2L205.0,418.1L203.1,416.2L203.8,412.5L202.8,408.8L203.1,405.0L201.5,401.0L203.4,397.6L199.8,395.2L196.2,392.8L193.8,390.5L195.0,385.7L192.6,380.9L187.8,378.5M204.6,391.7L209.4,389.3L214.2,389.3L216.6,390.5M140.0,359.4L143.6,362.9L146.0,366.5L149.6,368.9L152.0,362.9L154.4,361.7L159.1,360.5L163.9,359.4L169.9,358.2L175.9,357.0L181.9,354.6L180.7,349.8L178.3,347.4L174.7,345.0M181.9,354.6L187.8,355.8L191.4,357.0L193.8,360.5L196.2,366.5M149.6,368.9L150.8,373.7L154.4,376.1L160.3,373.7L165.1,371.3L169.9,370.7L172.3,373.7L169.9,377.3L166.3,380.9L165.1,385.7L168.7,384.5L173.5,382.1L179.5,379.7L185.5,378.5L187.8,378.5M122.3,407.3L123.5,403.7L125.9,400.1L129.5,396.5L134.3,394.1L139.0,391.7L142.6,390.6L146.2,391.7L148.6,392.9L152.2,395.3L157.0,396.5L161.8,394.1L167.8,395.3L173.7,396.5L176.1,397.1L173.7,398.9L167.8,401.3L161.8,403.7L157.0,407.3L152.2,410.9L148.6,413.3L143.8,415.7L137.8,416.9L131.9,415.7L125.9,414.5L122.3,412.1L121.1,409.7L122.3,407.3M150.8,373.7L148.5,377.5L146.5,381.5L146.8,385.5L148.0,389.0L148.6,392.9M129.5,375.0L128.3,378.6L130.7,382.2L134.3,383.4L135.5,387.0L137.8,389.4L141.4,390.6L145.0,391.7M119.9,379.6L123.5,372.4L130.7,371.2L135.5,373.6L137.8,377.2L139.0,380.0M90.0,414.5L94.8,412.1L99.6,410.9L104.4,408.5L110.3,406.1L115.1,404.9L119.9,404.9L122.3,407.3M90.0,427.6L94.8,428.8L99.6,430.0L104.4,431.2L110.3,432.4L113.9,431.2L117.5,430.0L121.1,428.8L124.7,427.6L125.9,425.2L128.3,422.8L130.7,421.6L133.1,420.5L135.5,419.3L137.8,416.9M137.8,416.9L140.2,419.3L142.6,421.6L146.2,422.8L149.8,424.0L152.2,422.8L157.0,421.6L161.8,422.8L165.4,426.4L167.8,430.0L170.1,434.8L171.3,438.4L172.5,441.0L173.9,444.9M154.4,410.0L156.0,414.0L159.0,418.0L161.8,422.8M119.9,427.6L121.1,431.2L123.5,434.8L125.9,437.2L128.3,440.0L130.1,444.0L132.6,448.5M147.4,425.2L149.8,430.0L152.2,434.8L154.6,440.0L153.0,445.0L150.0,449.0L144.7,452.2M90.0,448.5L94.9,449.7L99.7,450.9L104.6,451.6L109.5,452.2L113.1,454.6L114.3,457.0M113.1,454.6L116.8,453.4L121.6,452.2L126.5,450.9L130.1,449.7L132.6,448.5L136.2,449.7L141.1,450.9L144.7,452.2L146.0,455.8L147.2,459.5L146.0,461.9M114.3,457.0L115.5,461.9L114.3,466.8L113.1,471.6L114.3,476.5L115.5,481.4L116.8,486.2M146.0,461.9L141.1,464.3L137.4,466.8L135.0,470.4L132.6,474.1L130.1,477.7L128.9,481.4L127.7,485.0L130.1,488.7L132.6,491.1L135.0,493.5M143.5,452.2L144.7,455.8L147.2,459.5L148.4,464.3L150.8,466.8L154.5,469.2L158.1,466.8L163.0,463.1L166.6,459.5L169.1,454.6L171.5,449.7L173.9,444.9M173.9,444.9L171.5,452.2L167.9,459.5L164.2,464.3L160.6,468.0L157.0,474.1L154.5,480.1L150.8,483.8L146.0,487.4L141.1,489.9L136.2,493.5L131.4,496.0L126.5,498.4L120.4,499.6L114.3,502.0L109.5,504.5L105.8,506.0M90.0,475.3L94.9,478.9L99.7,481.4L104.6,482.6L109.5,482.0L114.3,483.8L116.8,486.2L120.4,486.2L125.3,486.8L128.9,485.0M90.0,486.2L93.6,488.7L97.3,491.1L99.7,494.7L97.3,498.4L94.9,502.0L92.4,505.7M94.9,475.3L96.1,480.1L94.9,483.8L92.4,486.2M165.4,485.0L170.3,483.8L170.9,488.7L169.1,493.5L166.6,498.4L164.2,503.3L163.0,505.5L160.6,504.5L158.1,500.8L158.7,495.9L161.8,491.1L164.2,487.4L165.4,485.0M235.0,420.0L240.0,416.2L245.0,412.5L250.0,410.6L257.5,410.0L265.0,409.4M235.6,421.2L241.2,420.0L247.5,417.5L255.0,416.2L262.5,415.6M225.0,426.2L228.8,423.8L235.0,423.1L240.0,425.0L243.8,427.5L241.2,431.2L240.0,435.0L237.5,438.8L233.8,440.0L230.0,437.5L228.8,432.5L226.2,430.0L225.0,427.5M245.0,423.8L250.0,421.2L257.5,420.0L262.5,421.2L260.0,425.0L255.0,427.5L248.8,430.0L245.0,427.5L245.0,423.8M7.2,372.1L11.0,371.5L14.0,372.1L14.6,374.5L11.6,375.7L10.4,378.1L13.4,379.9L17.0,381.7L20.0,384.1L22.9,385.9L26.5,384.7L30.1,384.1L33.7,383.5L37.3,382.3L40.9,382.3L43.3,384.1L43.9,387.1L42.1,389.5L40.9,391.3L43.3,393.1L46.9,394.9L50.5,396.1L55.0,397.0L60.0,398.0L64.8,399.0L69.6,400.2L73.2,402.6L75.6,406.2L75.6,408.4L73.2,412.0L69.6,412.0L64.8,413.2L61.2,412.0M7.2,385.9L12.2,388.3L17.0,390.7L21.7,393.1L26.5,394.9L30.1,397.2L32.5,400.2L33.7,403.8L34.9,407.4L33.7,409.6L30.1,413.2L27.7,415.6L25.3,417.9L20.6,419.1L19.4,420.3L22.9,422.7L27.7,423.3L28.9,425.1L25.3,426.9L21.7,428.1L18.2,429.9L14.6,431.1L11.0,429.9L7.4,427.5M91.1,381.7L88.7,385.9L87.5,390.7L88.7,395.5L89.9,400.2L88.7,404.8L87.5,409.6L88.7,414.4L91.1,419.1L95.0,423.9M52.8,403.6L52.8,407.2L55.2,409.6L60.0,411.4L63.6,408.4L62.4,404.8L60.0,403.6L52.8,403.6M58.8,412.0L61.2,415.6L60.0,419.1L57.6,422.7L55.2,425.1L54.0,428.7M34.9,419.1L38.5,421.5L43.3,423.3L45.7,426.3L46.9,429.3L50.5,429.9L55.2,428.7L60.0,429.3L64.8,431.1L69.6,432.9L74.4,434.7L79.2,435.9L82.8,438.3L85.1,440.7L87.5,443.1M74.4,434.7L72.0,438.3L69.6,441.9L66.0,445.5L62.4,447.8L58.8,449.0L55.2,450.2L52.8,452.6L54.0,456.2L57.6,458.6L61.2,459.2L64.8,457.4L68.4,456.2L72.0,457.4L75.6,459.8L79.2,462.2L81.6,465.0M82.8,438.3L81.6,443.1L79.2,446.7L76.8,449.0L79.2,452.6L81.6,456.2L80.4,459.8M82.8,450.2L88.7,449.0L95.0,447.8M7.4,450.2L8.6,455.0L11.0,458.6L14.6,461.0L17.0,465.0M7.4,449.8L7.4,457.0L12.2,458.2L17.0,462.9L20.6,467.7L24.1,472.5L27.7,476.1L31.3,476.1L34.9,473.7L37.3,468.9L38.5,464.1L40.9,460.5L44.5,459.4L45.7,462.9L49.3,464.1L51.7,462.9L52.8,465.3M52.8,465.3L57.6,464.1L60.0,460.5L63.6,457.0L68.4,455.8L72.0,458.2L75.6,460.5L78.0,464.1L79.2,468.9L80.4,474.9L76.8,478.5L72.0,480.9L67.2,482.1L62.4,483.3L57.6,484.5L52.8,485.7L49.3,486.3L46.9,484.5L45.7,480.9L43.3,476.1L40.9,471.3L39.7,468.9L42.1,466.5L48.1,465.3L52.8,465.3M46.9,486.9L50.5,490.5L52.8,495.2L55.2,497.6L57.6,500.0M25.3,504.8L28.9,502.4L34.9,501.2L40.9,500.0L46.9,498.8L51.7,496.4M7.4,498.8L9.8,501.2L8.6,504.8L7.4,506.0M79.2,452.2L81.6,448.6L88.7,447.4L95.0,448.6M80.4,457.0L78.0,452.2L75.6,448.6L74.4,445.0M52.8,452.2L55.2,448.6L61.2,447.4L64.8,445.0M81.6,478.5L88.7,476.1L95.0,474.9M88.7,504.8L92.3,502.4L95.0,501.2M38.5,465.0L40.9,459.8L44.5,458.6L48.1,461.0L50.5,463.4M57.6,500.0L62.0,502.0L68.0,503.0L74.0,502.0L80.0,503.0L86.0,504.0L90.0,506.0" fill="none" stroke="#6e6e6e" stroke-width="0.55" stroke-linejoin="round"/><path d="M116.75,353.25L120.25,353.25A3.5,3.5 0 1 1 116.75,349.75Z" fill="#ee1111"/><path d="M116.75,353.25L116.75,349.75A3.5,3.5 0 0 1 120.25,353.25Z" fill="#f2e030"/><path d="M121.25,383L121.25,386.50A3.5,3.5 0 1 1 123.00,379.97Z" fill="#ee1111"/><path d="M121.25,383L123.00,379.97A3.5,3.5 0 0 1 121.25,386.50Z" fill="#f07ce8"/><circle cx="100.25" cy="400.5" r="3.6" fill="#ee1111"/><path d="M56.25,403.25L56.25,406.65A3.4,3.4 0 0 1 55.09,400.06Z" fill="#ee1111"/><path d="M56.25,403.25L55.09,400.06A3.4,3.4 0 0 1 59.19,401.55Z" fill="#3040e0"/><path d="M56.25,403.25L59.19,401.55A3.4,3.4 0 0 1 56.25,406.65Z" fill="#58d040"/><path d="M143.25,406.75L146.75,406.75A3.5,3.5 0 1 1 145.00,403.72Z" fill="#ee1111"/><path d="M143.25,406.75L145.00,403.72A3.5,3.5 0 0 1 146.75,406.75Z" fill="#6a5a20"/><path d="M43.25,417.5L39.96,418.70A3.5,3.5 0 1 1 46.75,417.50Z" fill="#5038e0"/><path d="M43.25,417.5L46.75,417.50A3.5,3.5 0 0 1 42.64,420.95Z" fill="#ee1111"/><path d="M43.25,417.5L42.64,420.95A3.5,3.5 0 0 1 39.96,418.70Z" fill="#f0b890"/><path d="M75.75,414.5L75.75,418.00A3.5,3.5 0 1 1 76.95,411.21Z" fill="#ee1111"/><path d="M75.75,414.5L76.95,411.21A3.5,3.5 0 0 1 75.75,418.00Z" fill="#4030d0"/><path d="M111.5,415.5L111.50,419.00A3.5,3.5 0 0 1 109.25,412.82Z" fill="#ee1111"/><path d="M111.5,415.5L109.25,412.82A3.5,3.5 0 0 1 113.25,412.47Z" fill="#7a7a30"/><path d="M111.5,415.5L113.25,412.47A3.5,3.5 0 0 1 114.79,414.30Z" fill="#58c058"/><path d="M111.5,415.5L114.79,414.30A3.5,3.5 0 0 1 111.50,419.00Z" fill="#a0d8f0"/><path d="M156.25,430L158.00,433.03A3.5,3.5 0 1 1 155.05,426.71Z" fill="#ee1111"/><path d="M156.25,430L155.05,426.71A3.5,3.5 0 0 1 158.00,433.03Z" fill="#f4c098"/><path d="M103,436.75L99.50,436.75A3.5,3.5 0 0 1 106.50,436.75Z" fill="#a0e070"/><path d="M103,436.75L106.50,436.75A3.5,3.5 0 0 1 99.97,438.50Z" fill="#b060e0"/><path d="M103,436.75L99.97,438.50A3.5,3.5 0 0 1 99.50,436.75Z" fill="#ee1111"/><path d="M135.75,435.5L135.75,439.00A3.5,3.5 0 0 1 135.75,432.00Z" fill="#ee1111"/><path d="M135.75,435.5L135.75,432.00A3.5,3.5 0 0 1 135.75,439.00Z" fill="#f080e0"/><path d="M158,448.25L161.03,450.00A3.5,3.5 0 0 1 154.71,447.05Z" fill="#ee1111"/><path d="M158,448.25L154.71,447.05A3.5,3.5 0 0 1 159.75,445.22Z" fill="#f4c098"/><path d="M158,448.25L159.75,445.22A3.5,3.5 0 0 1 161.03,450.00Z" fill="#3050d0"/><path d="M63.25,467L65.00,470.03A3.5,3.5 0 1 1 63.25,463.50Z" fill="#ee1111"/><path d="M63.25,467L63.25,463.50A3.5,3.5 0 0 1 65.00,470.03Z" fill="#3030d8"/><path d="M100,463.25L101.75,466.28A3.5,3.5 0 1 1 101.20,459.96Z" fill="#ee1111"/><path d="M100,463.25L101.20,459.96A3.5,3.5 0 0 1 101.75,466.28Z" fill="#f6c0a0"/><circle cx="22.5" cy="487" r="4.1" fill="#ee1111"/><path d="M222,338L225.50,338.00A3.5,3.5 0 0 1 218.50,338.00Z" fill="#ee1111"/><path d="M222,338L218.50,338.00A3.5,3.5 0 0 1 222.00,334.50Z" fill="#d0a0f0"/><path d="M222,338L222.00,334.50A3.5,3.5 0 0 1 225.50,338.00Z" fill="#90c0d0"/><circle cx="213.25" cy="401" r="3.6" fill="#ee1111"/><text x="25.2" y="347.19" text-anchor="middle" font-family="Liberation Sans, Arial, sans-serif" font-size="10.8" font-weight="bold" fill="#111">(a)</text><text x="51" y="351.30" text-anchor="middle" font-family="Liberation Sans, Arial, sans-serif" font-size="5.0" font-weight="bold" fill="#111">Mongolia</text><text x="117" y="361.50" text-anchor="middle" font-family="Liberation Sans, Arial, sans-serif" font-size="5.0" font-weight="bold" fill="#111">Neimenggu</text><text x="123.5" y="391.00" text-anchor="middle" font-family="Liberation Sans, Arial, sans-serif" font-size="5.0" font-weight="bold" fill="#111">Hebei</text><text x="99" y="396.40" text-anchor="middle" font-family="Liberation Sans, Arial, sans-serif" font-size="5.0" font-weight="bold" fill="#111">Shanxi</text><text x="57" y="398.60" text-anchor="middle" font-family="Liberation Sans, Arial, sans-serif" font-size="5.0" font-weight="bold" fill="#111">Qinghai</text><text x="145.5" y="402.60" text-anchor="middle" font-family="Liberation Sans, Arial, sans-serif" font-size="5.0" font-weight="bold" fill="#111">Shandong</text><text x="44" y="414.00" text-anchor="middle" font-family="Liberation Sans, Arial, sans-serif" font-size="5.0" font-weight="bold" fill="#111">Gansu</text><text x="74.3" y="422.40" text-anchor="middle" font-family="Liberation Sans, Arial, sans-serif" font-size="5.0" font-weight="bold" fill="#111">Sanxi</text><text x="109" y="423.40" text-anchor="middle" font-family="Liberation Sans, Arial, sans-serif" font-size="5.0" font-weight="bold" fill="#111">Henan</text><text x="152" y="426.40" text-anchor="middle" font-family="Liberation Sans, Arial, sans-serif" font-size="5.0" font-weight="bold" fill="#111">Jiangsu</text><text x="103" y="445.00" text-anchor="middle" font-family="Liberation Sans, Arial, sans-serif" font-size="5.0" font-weight="bold" fill="#111">Hubei</text><text x="137" y="445.20" text-anchor="middle" font-family="Liberation Sans, Arial, sans-serif" font-size="5.0" font-weight="bold" fill="#111">Anhui</text><text x="155" y="456.40" text-anchor="middle" font-family="Liberation Sans, Arial, sans-serif" font-size="5.0" font-weight="bold" fill="#111">Zhejiang</text><text x="63" y="475.00" text-anchor="middle" font-family="Liberation Sans, Arial, sans-serif" font-size="5.0" font-weight="bold" fill="#111">Guizhou</text><text x="100" y="471.80" text-anchor="middle" font-family="Liberation Sans, Arial, sans-serif" font-size="5.0" font-weight="bold" fill="#111">Hunan</text><text x="22.5" y="494.20" text-anchor="middle" font-family="Liberation Sans, Arial, sans-serif" font-size="5.0" font-weight="bold" fill="#111">Yunnan</text><text x="222" y="334.00" text-anchor="middle" font-family="Liberation Sans, Arial, sans-serif" font-size="5.0" font-weight="bold" fill="#111">Heilongjiang</text><text x="213" y="397.00" text-anchor="middle" font-family="Liberation Sans, Arial, sans-serif" font-size="5.0" font-weight="bold" fill="#111">Korea</text><text x="256.3" y="415.10" text-anchor="middle" font-family="Liberation Sans, Arial, sans-serif" font-size="5.0" font-weight="bold" fill="#111">Japan</text><rect x="220.8" y="438.65" width="9.2" height="3.2" fill="#877a2a"/><text transform="translate(233.8 441.50) rotate(0.4)" font-family="Liberation Sans, Arial, sans-serif" font-size="3.6" font-weight="bold" fill="#111">Hap 1</text><rect x="220.8" y="442.35" width="9.2" height="3.2" fill="#aee0f2"/><text transform="translate(233.8 445.20) rotate(0.4)" font-family="Liberation Sans, Arial, sans-serif" font-size="3.6" font-weight="bold" fill="#111">Hap 2</text><rect x="220.8" y="446.05" width="9.2" height="3.2" fill="#f08af0"/><text transform="translate(233.8 448.90) rotate(0.4)" font-family="Liberation Sans, Arial, sans-serif" font-size="3.6" font-weight="bold" fill="#111">Hap 3</text><rect x="220.8" y="449.75" width="9.2" height="3.2" fill="#e81010"/><text transform="translate(233.8 452.60) rotate(0.4)" font-family="Liberation Sans, Arial, sans-serif" font-size="3.6" font-weight="bold" fill="#111">Hap 4</text><rect x="220.8" y="453.45" width="9.2" height="3.2" fill="#4a8ed6"/><text transform="translate(233.8 456.30) rotate(0.4)" font-family="Liberation Sans, Arial, sans-serif" font-size="3.6" font-weight="bold" fill="#111">Hap 5</text><rect x="220.8" y="457.15" width="9.2" height="3.2" fill="#8a74f0"/><text transform="translate(233.8 460.00) rotate(0.4)" font-family="Liberation Sans, Arial, sans-serif" font-size="3.6" font-weight="bold" fill="#111">Hap 6</text><rect x="220.8" y="460.85" width="9.2" height="3.2" fill="#c07af0"/><text transform="translate(233.8 463.70) rotate(0.4)" font-family="Liberation Sans, Arial, sans-serif" font-size="3.6" font-weight="bold" fill="#111">Hap 7</text><rect x="220.8" y="464.55" width="9.2" height="3.2" fill="#a448e4"/><text transform="translate(233.8 467.40) rotate(0.4)" font-family="Liberation Sans, Arial, sans-serif" font-size="3.6" font-weight="bold" fill="#111">Hap 8</text><rect x="220.8" y="468.25" width="9.2" height="3.2" fill="#3434e0"/><text transform="translate(233.8 471.10) rotate(0.4)" font-family="Liberation Sans, Arial, sans-serif" font-size="3.6" font-weight="bold" fill="#111">Hap 9</text><rect x="220.8" y="471.95" width="9.2" height="3.2" fill="#2e10a0"/><text transform="translate(233.8 474.80) rotate(0.4)" font-family="Liberation Sans, Arial, sans-serif" font-size="3.6" font-weight="bold" fill="#111">Hap 10</text><rect x="220.8" y="475.65" width="9.2" height="3.2" fill="#dcd4f2"/><text transform="translate(233.8 478.50) rotate(0.4)" font-family="Liberation Sans, Arial, sans-serif" font-size="3.6" font-weight="bold" fill="#111">Hap 11</text><rect x="220.8" y="479.35" width="9.2" height="3.2" fill="#a6f0a2"/><text transform="translate(233.8 482.20) rotate(0.4)" font-family="Liberation Sans, Arial, sans-serif" font-size="3.6" font-weight="bold" fill="#111">Hap 12</text><rect x="220.8" y="483.05" width="9.2" height="3.2" fill="#78d478"/><text transform="translate(233.8 485.90) rotate(0.4)" font-family="Liberation Sans, Arial, sans-serif" font-size="3.6" font-weight="bold" fill="#111">Hap 13</text><rect x="220.8" y="486.75" width="9.2" height="3.2" fill="#44e040"/><text transform="translate(233.8 489.60) rotate(0.4)" font-family="Liberation Sans, Arial, sans-serif" font-size="3.6" font-weight="bold" fill="#111">Hap 14</text><rect x="220.8" y="490.45" width="9.2" height="3.2" fill="#f4c498"/><text transform="translate(233.8 493.30) rotate(0.4)" font-family="Liberation Sans, Arial, sans-serif" font-size="3.6" font-weight="bold" fill="#111">Hap 15</text><rect x="220.8" y="494.15" width="9.2" height="3.2" fill="#f08424"/><text transform="translate(233.8 497.00) rotate(0.4)" font-family="Liberation Sans, Arial, sans-serif" font-size="3.6" font-weight="bold" fill="#111">Hap 16</text><rect x="220.8" y="497.85" width="9.2" height="3.2" fill="#f2f060"/><text transform="translate(233.8 500.70) rotate(0.4)" font-family="Liberation Sans, Arial, sans-serif" font-size="3.6" font-weight="bold" fill="#111">Hap 17</text><g stroke="#3a3a3a" stroke-width="0.7" fill="none"><path d="M10,523.3H279.5M10,530H279.5M10,523.3V530M53.25,523.3V530M86.25,523.3V530M153.5,523.3V530M200,523.3V530M262.5,523.3V530M271.25,523.3V530M279.5,523.3V530"/></g><g font-family="Liberation Sans, Arial, sans-serif" font-size="4.8" fill="#222" text-anchor="middle"><text x="70" y="528.5">Pa</text><text x="120" y="528.5">Eo</text><text x="177" y="528.5">Ol</text><text x="232.5" y="528.5">Mi</text><text x="267" y="528.5">Pl</text><text x="275.5" y="528.5">Qu</text></g><g font-family="Liberation Sans, Arial, sans-serif" font-size="2.2" fill="#555" text-anchor="middle"><text x="70.75" y="535.5">60.0</text><text x="140.5" y="535.5">40.0</text><text x="210" y="535.5">20.0</text><text x="279.5" y="535.5">0.0</text><text x="286" y="535.5">Ma</text></g><g fill="none" stroke="#1a1a1a" stroke-width="1.0" stroke-dasharray="6.2,4.9"><rect x="361.5" y="2.5" width="170.2" height="245"/><path d="M361.5,159.5H531.7"/></g><path d="M461.10,63.00L454.50,8.30M461.10,63.00L485.30,12.50M461.10,63.00L422.50,20.80M461.10,63.00L510.50,34.80M461.10,63.00L405.70,49.30M461.10,63.00L519.30,63.50M461.10,63.00L405.80,80.00M461.10,63.00L510.80,91.80M461.10,63.00L423.60,107.90M461.10,63.00L485.00,110.00M461.10,63.00L454.60,118.90M423.60,107.90L371.80,108.30M423.60,107.90L387.30,148.00M423.60,107.90L435.30,196.00M454.60,118.90L435.30,196.00M435.30,196.00L407.50,239.50M435.30,196.00L468.00,240.30" stroke="#000" stroke-width="0.9" fill="none"/><path d="M455.12,29.31L458.89,28.86M474.39,30.87L477.82,32.51M435.77,38.12L438.57,35.55M490.79,43.87L492.67,47.17M426.30,56.35L427.21,52.66M497.20,61.41L497.17,65.21M427.37,75.36L426.26,71.72M492.87,79.21L490.96,82.50M439.31,92.06L436.39,89.62M477.61,91.28L474.22,93.00M458.96,97.88L455.18,97.44M397.71,110.00L397.69,106.20M408.67,127.22L405.86,124.67M430.40,144.65L426.63,145.15M447.51,155.06L443.82,154.14M447.24,156.13L443.55,155.21M423.00,218.77L419.80,216.73M453.18,217.02L450.12,219.28" stroke="#000" stroke-width="0.9" fill="none"/><path d="M461.10,63.00L479.10,63.00A18.00,18.00 0 0 1 459.53,80.93Z" fill="#980000" stroke="#222" stroke-width="0.30"/><path d="M461.10,63.00L459.53,80.93A18.00,18.00 0 0 1 449.77,76.99Z" fill="#d43cf6" stroke="#222" stroke-width="0.30"/><path d="M461.10,63.00L449.77,76.99A18.00,18.00 0 0 1 443.37,59.87Z" fill="#f4c02a" stroke="#222" stroke-width="0.30"/><path d="M461.10,63.00L443.37,59.87A18.00,18.00 0 0 1 446.36,52.68Z" fill="#2c0c9e" stroke="#222" stroke-width="0.30"/><path d="M461.10,63.00L446.36,52.68A18.00,18.00 0 0 1 475.28,51.92Z" fill="#5cf032" stroke="#222" stroke-width="0.30"/><path d="M461.10,63.00L475.28,51.92A18.00,18.00 0 0 1 479.10,63.00Z" fill="#f01414" stroke="#222" stroke-width="0.30"/><circle cx="461.10" cy="63.00" r="18.00" fill="none" stroke="#111" stroke-width="0.5"/><circle cx="454.50" cy="8.30" r="3.00" fill="#5cf032" stroke="#111" stroke-width="0.5"/><circle cx="485.30" cy="12.50" r="3.90" fill="#d43cf6" stroke="#111" stroke-width="0.5"/><circle cx="422.50" cy="20.80" r="3.00" fill="#2c0c9e" stroke="#111" stroke-width="0.5"/><circle cx="510.50" cy="34.80" r="3.00" fill="#f01414" stroke="#111" stroke-width="0.5"/><path d="M405.70,49.30L399.20,49.30A6.50,6.50 0 0 1 408.95,43.67Z" fill="#2c0c9e" stroke="#222" stroke-width="0.30"/><path d="M405.70,49.30L408.95,43.67A6.50,6.50 0 0 1 412.20,49.30Z" fill="#5cf032" stroke="#222" stroke-width="0.30"/><path d="M405.70,49.30L412.20,49.30A6.50,6.50 0 0 1 408.95,54.93Z" fill="#980000" stroke="#222" stroke-width="0.30"/><path d="M405.70,49.30L408.95,54.93A6.50,6.50 0 0 1 399.20,49.30Z" fill="#f4c02a" stroke="#222" stroke-width="0.30"/><circle cx="405.70" cy="49.30" r="6.50" fill="none" stroke="#111" stroke-width="0.5"/><circle cx="519.30" cy="63.50" r="3.00" fill="#980000" stroke="#111" stroke-width="0.5"/><circle cx="405.80" cy="80.00" r="3.00" fill="#d43cf6" stroke="#111" stroke-width="0.5"/><path d="M510.80,91.80L507.20,91.80A3.60,3.60 0 0 1 514.40,91.80Z" fill="#d43cf6" stroke="#222" stroke-width="0.30"/><path d="M510.80,91.80L514.40,91.80A3.60,3.60 0 0 1 507.20,91.80Z" fill="#980000" stroke="#222" stroke-width="0.30"/><circle cx="510.80" cy="91.80" r="3.60" fill="none" stroke="#111" stroke-width="0.5"/><path d="M423.60,107.90L423.27,98.41A9.50,9.50 0 0 1 427.91,99.44Z" fill="#5cf032" stroke="#222" stroke-width="0.30"/><path d="M423.60,107.90L427.91,99.44A9.50,9.50 0 0 1 433.09,108.23Z" fill="#f01414" stroke="#222" stroke-width="0.30"/><path d="M423.60,107.90L433.09,108.23A9.50,9.50 0 0 1 415.21,112.36Z" fill="#980000" stroke="#222" stroke-width="0.30"/><path d="M423.60,107.90L415.21,112.36A9.50,9.50 0 0 1 414.10,107.90Z" fill="#d43cf6" stroke="#222" stroke-width="0.30"/><path d="M423.60,107.90L414.10,107.90A9.50,9.50 0 0 1 414.86,104.19Z" fill="#f4c02a" stroke="#222" stroke-width="0.30"/><path d="M423.60,107.90L414.86,104.19A9.50,9.50 0 0 1 423.27,98.41Z" fill="#2c0c9e" stroke="#222" stroke-width="0.30"/><circle cx="423.60" cy="107.90" r="9.50" fill="none" stroke="#111" stroke-width="0.5"/><circle cx="371.80" cy="108.30" r="3.00" fill="#2c0c9e" stroke="#111" stroke-width="0.5"/><circle cx="485.00" cy="110.00" r="3.00" fill="#2c0c9e" stroke="#111" stroke-width="0.5"/><path d="M454.60,118.90L453.03,114.58A4.60,4.60 0 0 1 459.13,119.70Z" fill="#5cf032" stroke="#222" stroke-width="0.30"/><path d="M454.60,118.90L459.13,119.70A4.60,4.60 0 0 1 453.03,123.22Z" fill="#980000" stroke="#222" stroke-width="0.30"/><path d="M454.60,118.90L453.03,123.22A4.60,4.60 0 0 1 453.03,114.58Z" fill="#d43cf6" stroke="#222" stroke-width="0.30"/><circle cx="454.60" cy="118.90" r="4.60" fill="none" stroke="#111" stroke-width="0.5"/><circle cx="387.30" cy="148.00" r="3.00" fill="#980000" stroke="#111" stroke-width="0.5"/><circle cx="435.30" cy="196.00" r="3.00" fill="#5cf032" stroke="#111" stroke-width="0.5"/><circle cx="407.50" cy="239.50" r="3.00" fill="#f01414" stroke="#111" stroke-width="0.5"/><circle cx="468.00" cy="240.30" r="3.00" fill="#5cf032" stroke="#111" stroke-width="0.5"/><g font-family="Liberation Sans, Arial, sans-serif" font-size="5" fill="#111" stroke="#111" stroke-width="0.08"><text transform="translate(433.8 10.80) rotate(0.3)">Hap 6</text><text transform="translate(490.8 13.30) rotate(0.3)">Hap 7</text><text transform="translate(400 22.30) rotate(0.3)">Hap 8</text><text transform="translate(515 37.10) rotate(0.3)">Hap 11</text><text transform="translate(380 50.30) rotate(0.3)">Hap 9</text><text transform="translate(515 72.30) rotate(0.3)">Hap 5</text><text transform="translate(380 81.80) rotate(0.3)">Hap 13</text><text transform="translate(514.5 99.80) rotate(0.3)">Hap 12</text><text transform="translate(433.8 105.10) rotate(0.3)">Hap 15</text><text transform="translate(368.8 117.30) rotate(0.3)">Hap 14</text><text transform="translate(478.8 117.80) rotate(0.3)">Hap 10</text><text transform="translate(458 128.10) rotate(0.3)">Hap 3</text><text transform="translate(375 156.10) rotate(0.3)">Hap 16</text><text transform="translate(441.3 196.80) rotate(0.3)">Hap 1</text><text transform="translate(384.5 242.30) rotate(0.3)">Hap 17</text><text transform="translate(473.8 242.10) rotate(0.3)">Hap 2</text><text x="450.5" y="55">Hap 4</text></g><g font-family="Liberation Sans, Arial, sans-serif" font-size="10.2" fill="#111"><text x="365.3" y="12.6">Lineage 2</text><text x="365.3" y="173.6">Lineage 1</text></g><text x="365.6" y="262.2" font-family="Liberation Sans, Arial, sans-serif" font-size="11.6" font-weight="bold" fill="#111">(a)</text><rect x="535.3" y="168.3" width="29.4" height="78.7" fill="#fff" stroke="#333" stroke-width="0.6"/><circle cx="550.7" cy="179.8" r="10.9" fill="#fff" stroke="#222" stroke-width="0.6"/><circle cx="550.2" cy="188.6" r="2.2" fill="#fff" stroke="#222" stroke-width="0.6"/><text x="550.7" y="181.3" font-family="Liberation Sans, Arial, sans-serif" font-size="4.0" text-anchor="middle" fill="#111">10 samples</text><text x="550.5" y="194.5" font-family="Liberation Sans, Arial, sans-serif" font-size="3.6" text-anchor="middle" fill="#111">1 sample</text><circle cx="543.6" cy="201.40" r="2.9" fill="#f01414" stroke="#222" stroke-width="0.4"/><text x="549.3" y="203.40" font-family="Liberation Sans, Arial, sans-serif" font-size="4.9" fill="#333">NHK</text><circle cx="543.6" cy="208.76" r="2.9" fill="#5cf032" stroke="#222" stroke-width="0.4"/><text x="549.3" y="210.76" font-family="Liberation Sans, Arial, sans-serif" font-size="4.9" fill="#333">SGS</text><circle cx="543.6" cy="216.12" r="2.9" fill="#2c0c9e" stroke="#222" stroke-width="0.4"/><text x="549.3" y="218.12" font-family="Liberation Sans, Arial, sans-serif" font-size="4.9" fill="#333">QHS</text><circle cx="543.6" cy="223.48" r="2.9" fill="#f4c02a" stroke="#222" stroke-width="0.4"/><text x="549.3" y="225.48" font-family="Liberation Sans, Arial, sans-serif" font-size="4.9" fill="#333">YUG</text><circle cx="543.6" cy="230.84" r="2.9" fill="#d43cf6" stroke="#222" stroke-width="0.4"/><text x="549.3" y="232.84" font-family="Liberation Sans, Arial, sans-serif" font-size="4.9" fill="#333">HUA</text><circle cx="543.6" cy="238.20" r="2.9" fill="#980000" stroke="#222" stroke-width="0.4"/><text x="549.3" y="240.20" font-family="Liberation Sans, Arial, sans-serif" font-size="4.9" fill="#333">JSZ</text><g fill="none" stroke="#1a1a1a" stroke-width="1.0" stroke-dasharray="6.2,4.9"><rect x="572.3" y="2.5" width="156.2" height="245"/><path d="M572.3,159.5H728.5"/></g><path d="M648.00,8.00L646.00,28.10M646.00,28.10L641.00,90.70M615.30,16.80L619.80,51.30M615.30,16.80L631.50,47.00M603.00,21.30L641.00,90.70M586.00,32.30L641.00,90.70M619.80,51.30L641.00,90.70M631.50,47.00L641.00,90.70M644.50,47.50L641.00,90.70M656.50,46.80L641.00,90.70M677.50,30.50L685.50,55.30M693.30,31.00L685.50,55.30M706.50,38.50L685.50,55.30M712.30,52.00L685.50,55.30M708.50,69.80L685.50,55.30M685.50,55.30L641.00,90.70M668.30,53.50L641.00,90.70M683.60,72.80L641.00,90.70M683.60,72.80L686.50,85.30M686.50,85.30L641.00,90.70M608.30,56.30L641.00,90.70M601.30,64.00L641.00,90.70M596.30,74.30L641.00,90.70M594.80,84.00L641.00,90.70M595.30,94.50L641.00,90.70M598.00,104.50L641.00,90.70M604.30,114.00L641.00,90.70M615.00,123.30L641.00,90.70M629.40,131.50L641.00,90.70M639.90,133.50L641.00,90.70M652.00,132.10L641.00,90.70M664.50,127.60L641.00,90.70M673.80,117.50L641.00,90.70M681.80,108.80L641.00,90.70M685.50,97.30L641.00,90.70M652.00,132.10L657.30,153.30M629.40,131.50L638.00,212.50M639.90,133.50L638.00,212.50M652.00,132.10L638.00,212.50M638.00,212.50L617.30,241.30M638.00,212.50L659.50,241.30" stroke="#000" stroke-width="0.9" fill="none"/><path d="M648.89,17.22L645.31,16.87M645.60,55.72L642.01,55.43M645.49,57.11L641.90,56.82M619.11,32.09L615.54,32.56M624.18,29.54L621.00,31.24M621.68,51.67L618.52,53.39M611.58,56.84L608.96,59.30M612.54,57.86L609.92,60.32M630.93,68.18L627.75,69.88M637.53,66.28L634.02,67.05M644.72,67.09L641.13,66.79M651.22,67.15L647.83,65.96M682.81,41.11L679.39,42.21M691.50,42.49L688.08,41.38M698.17,47.47L695.93,44.65M701.15,55.19L700.71,51.61M699.77,55.36L699.33,51.78M697.19,64.80L699.11,61.75M666.60,72.64L664.35,69.82M657.47,71.30L654.56,69.18M665.13,82.51L663.73,79.20M686.66,78.02L683.15,78.83M666.24,89.52L665.81,85.94M624.32,70.54L621.71,73.02M620.17,74.52L618.16,77.51M617.03,79.99L615.80,83.37M615.85,85.23L615.33,88.80M615.72,91.00L616.01,94.58M616.80,96.58L617.90,100.00M619.85,102.00L621.78,105.03M625.29,107.51L628.11,109.75M632.89,112.65L636.35,113.63M638.60,114.19L642.19,114.29M645.31,113.93L648.79,113.01M652.41,111.96L655.44,110.03M657.90,106.83L660.18,104.05M662.71,102.30L664.17,99.01M665.90,96.21L666.43,92.65M664.52,96.01L665.05,92.45M656.13,141.20L652.64,142.08M634.74,164.75L631.16,165.13M634.89,166.14L631.31,166.52M635.04,167.53L631.46,167.91M640.92,166.11L637.32,166.03M640.88,167.51L637.28,167.43M640.85,168.91L637.25,168.83M648.41,163.19L644.87,162.57M648.17,164.57L644.63,163.95M647.93,165.95L644.39,165.33M630.15,226.51L627.22,224.41M648.70,223.82L645.81,225.98M649.54,224.94L646.65,227.10" stroke="#000" stroke-width="0.9" fill="none"/><path d="M641.00,90.70L641.00,80.20A10.50,10.50 0 0 1 651.37,89.06Z" fill="#5cf032" stroke="#222" stroke-width="0.27"/><path d="M641.00,90.70L651.37,89.06A10.50,10.50 0 0 1 641.00,101.20Z" fill="#980000" stroke="#222" stroke-width="0.27"/><path d="M641.00,90.70L641.00,101.20A10.50,10.50 0 0 1 632.84,97.31Z" fill="#d43cf6" stroke="#222" stroke-width="0.27"/><path d="M641.00,90.70L632.84,97.31A10.50,10.50 0 0 1 631.33,86.60Z" fill="#f4c02a" stroke="#222" stroke-width="0.27"/><path d="M641.00,90.70L631.33,86.60A10.50,10.50 0 0 1 641.00,80.20Z" fill="#2c0c9e" stroke="#222" stroke-width="0.27"/><circle cx="641.00" cy="90.70" r="10.50" fill="none" stroke="#111" stroke-width="0.45"/><circle cx="648.00" cy="8.00" r="2.60" fill="#980000" stroke="#111" stroke-width="0.45"/><path d="M646.00,28.10L646.00,24.20A3.90,3.90 0 0 1 649.90,28.10Z" fill="#f01414" stroke="#222" stroke-width="0.27"/><path d="M646.00,28.10L649.90,28.10A3.90,3.90 0 1 1 646.00,24.20Z" fill="#5cf032" stroke="#222" stroke-width="0.27"/><circle cx="646.00" cy="28.10" r="3.90" fill="none" stroke="#111" stroke-width="0.45"/><circle cx="615.30" cy="16.80" r="2.60" fill="#f4c02a" stroke="#111" stroke-width="0.45"/><circle cx="603.00" cy="21.30" r="2.60" fill="#980000" stroke="#111" stroke-width="0.45"/><circle cx="586.00" cy="32.30" r="2.60" fill="#5cf032" stroke="#111" stroke-width="0.45"/><circle cx="677.50" cy="30.50" r="2.60" fill="#2c0c9e" stroke="#111" stroke-width="0.45"/><circle cx="693.30" cy="31.00" r="2.60" fill="#f01414" stroke="#111" stroke-width="0.45"/><circle cx="706.50" cy="38.50" r="2.60" fill="#2c0c9e" stroke="#111" stroke-width="0.45"/><circle cx="631.50" cy="47.00" r="2.60" fill="#d43cf6" stroke="#111" stroke-width="0.45"/><circle cx="644.50" cy="47.50" r="2.60" fill="#980000" stroke="#111" stroke-width="0.45"/><circle cx="656.50" cy="46.80" r="2.60" fill="#980000" stroke="#111" stroke-width="0.45"/><circle cx="619.80" cy="51.30" r="2.60" fill="#f4c02a" stroke="#111" stroke-width="0.45"/><circle cx="668.30" cy="53.50" r="2.60" fill="#f4c02a" stroke="#111" stroke-width="0.45"/><path d="M685.50,55.30L685.50,59.80A4.50,4.50 0 0 1 685.50,50.80Z" fill="#5cf032" stroke="#222" stroke-width="0.27"/><path d="M685.50,55.30L685.50,50.80A4.50,4.50 0 0 1 688.68,58.48Z" fill="#f01414" stroke="#222" stroke-width="0.27"/><path d="M685.50,55.30L688.68,58.48A4.50,4.50 0 0 1 685.50,59.80Z" fill="#980000" stroke="#222" stroke-width="0.27"/><circle cx="685.50" cy="55.30" r="4.50" fill="none" stroke="#111" stroke-width="0.45"/><circle cx="712.30" cy="52.00" r="2.60" fill="#f4c02a" stroke="#111" stroke-width="0.45"/><circle cx="608.30" cy="56.30" r="2.60" fill="#5cf032" stroke="#111" stroke-width="0.45"/><circle cx="601.30" cy="64.00" r="3.30" fill="#980000" stroke="#111" stroke-width="0.45"/><circle cx="708.50" cy="69.80" r="2.60" fill="#5cf032" stroke="#111" stroke-width="0.45"/><path d="M683.60,72.80L680.23,69.97A4.40,4.40 0 0 1 688.00,72.80Z" fill="#f01414" stroke="#222" stroke-width="0.27"/><path d="M683.60,72.80L688.00,72.80A4.40,4.40 0 0 1 684.36,77.13Z" fill="#d43cf6" stroke="#222" stroke-width="0.27"/><path d="M683.60,72.80L684.36,77.13A4.40,4.40 0 0 1 680.23,75.63Z" fill="#f4c02a" stroke="#222" stroke-width="0.27"/><path d="M683.60,72.80L680.23,75.63A4.40,4.40 0 0 1 680.23,69.97Z" fill="#5cf032" stroke="#222" stroke-width="0.27"/><circle cx="683.60" cy="72.80" r="4.40" fill="none" stroke="#111" stroke-width="0.45"/><circle cx="596.30" cy="74.30" r="2.60" fill="#f4c02a" stroke="#111" stroke-width="0.45"/><circle cx="686.50" cy="85.30" r="2.60" fill="#980000" stroke="#111" stroke-width="0.45"/><circle cx="594.80" cy="84.00" r="2.60" fill="#f01414" stroke="#111" stroke-width="0.45"/><circle cx="595.30" cy="94.50" r="2.60" fill="#d43cf6" stroke="#111" stroke-width="0.45"/><circle cx="685.50" cy="97.30" r="2.60" fill="#d43cf6" stroke="#111" stroke-width="0.45"/><circle cx="598.00" cy="104.50" r="2.60" fill="#5cf032" stroke="#111" stroke-width="0.45"/><circle cx="681.80" cy="108.80" r="3.50" fill="#5cf032" stroke="#111" stroke-width="0.45"/><circle cx="604.30" cy="114.00" r="2.60" fill="#f4c02a" stroke="#111" stroke-width="0.45"/><circle cx="673.80" cy="117.50" r="2.60" fill="#2c0c9e" stroke="#111" stroke-width="0.45"/><circle cx="615.00" cy="123.30" r="2.60" fill="#980000" stroke="#111" stroke-width="0.45"/><circle cx="664.50" cy="127.60" r="2.60" fill="#2c0c9e" stroke="#111" stroke-width="0.45"/><circle cx="629.40" cy="131.50" r="2.60" fill="#d43cf6" stroke="#111" stroke-width="0.45"/><circle cx="639.90" cy="133.50" r="2.60" fill="#f01414" stroke="#111" stroke-width="0.45"/><circle cx="652.00" cy="132.10" r="2.60" fill="#2c0c9e" stroke="#111" stroke-width="0.45"/><circle cx="657.30" cy="153.30" r="2.60" fill="#980000" stroke="#111" stroke-width="0.45"/><circle cx="638.00" cy="212.50" r="2.60" fill="#5cf032" stroke="#111" stroke-width="0.45"/><circle cx="617.30" cy="241.30" r="2.60" fill="#5cf032" stroke="#111" stroke-width="0.45"/><circle cx="659.50" cy="241.30" r="2.60" fill="#f01414" stroke="#111" stroke-width="0.45"/><g font-family="Liberation Sans, Arial, sans-serif" font-size="5" fill="#111" stroke="#111" stroke-width="0.08"><text transform="translate(651.8 10.10) rotate(0.3)">Hap 7</text><text transform="translate(619.3 18.10) rotate(0.3)">Hap 18</text><text transform="translate(583.8 23.60) rotate(0.3)">Hap 16</text><text transform="translate(651.3 29.60) rotate(0.3)">Hap 8</text><text transform="translate(671 26.80) rotate(0.3)">Hap 4</text><text transform="translate(688.8 26.80) rotate(0.3)">Hap 37</text><text transform="translate(590 34.10) rotate(0.3)">Hap 12</text><text transform="translate(710.8 40.30) rotate(0.3)">Hap 2</text><text transform="translate(623 43.80) rotate(0.3)">Hap 19</text><text transform="translate(645.5 44.80) rotate(0.3)">Hap 6</text><text transform="translate(660.8 48.30) rotate(0.3)">Hap 5</text><text transform="translate(602.5 51.60) rotate(0.3)">Hap 17</text><text transform="translate(662 60.10) rotate(0.3)">Hap 26</text><text transform="translate(680.5 63.30) rotate(0.3)">Hap 1</text><text transform="translate(708 57.80) rotate(0.3)">Hap 38</text><text transform="translate(590 58.30) rotate(0.3)">Hap 11</text><text transform="translate(581.3 65.30) rotate(0.3)">Hap 15</text><text transform="translate(712.5 71.60) rotate(0.3)">Hap 3</text><text transform="translate(688.8 74.80) rotate(0.3)">Hap 22</text><text transform="translate(576.3 75.80) rotate(0.3)">Hap 24</text><text transform="translate(576.3 85.80) rotate(0.3)">Hap 21</text><text transform="translate(690.8 87.10) rotate(0.3)">Hap 23</text><text transform="translate(576.3 96.30) rotate(0.3)">Hap 29</text><text transform="translate(688.8 99.10) rotate(0.3)">Hap 14</text><text transform="translate(579.5 106.80) rotate(0.3)">Hap 28</text><text transform="translate(685.8 110.60) rotate(0.3)">Hap 25</text><text transform="translate(585 116.30) rotate(0.3)">Hap 27</text><text transform="translate(678 119.60) rotate(0.3)">Hap 20</text><text transform="translate(596.3 125.60) rotate(0.3)">Hap 30</text><text transform="translate(667.5 129.30) rotate(0.3)">Hap 31</text><text transform="translate(609.5 134.30) rotate(0.3)">Hap 32</text><text transform="translate(632 140.60) rotate(0.3)">Hap 33</text><text transform="translate(655 137.10) rotate(0.3)">Hap 10</text><text transform="translate(661.3 155.10) rotate(0.3)">Hap 9</text><text transform="translate(642.5 214.30) rotate(0.3)">Hap 35</text><text transform="translate(597.5 242.80) rotate(0.3)">Hap 34</text><text transform="translate(663.8 243.30) rotate(0.3)">Hap 36</text></g><g font-family="Liberation Sans, Arial, sans-serif" font-size="10.2" fill="#111"><text x="672" y="12.8">Lineage 2</text><text x="672.5" y="174.6">Lineage 1</text></g><text x="583.0" y="262.3" font-family="Liberation Sans, Arial, sans-serif" font-size="11.6" font-weight="bold" fill="#111">(b)</text><rect x="732.4" y="186.8" width="22" height="60" fill="#fff" stroke="#333" stroke-width="0.5"/><circle cx="743.2" cy="195.2" r="7.3" fill="#fff" stroke="#222" stroke-width="0.5"/><circle cx="743.0" cy="201.2" r="1.7" fill="#fff" stroke="#222" stroke-width="0.5"/><text x="743.2" y="196" font-family="Liberation Sans, Arial, sans-serif" font-size="2.1" text-anchor="middle" fill="#111">9 samples</text><text x="743.0" y="205.3" font-family="Liberation Sans, Arial, sans-serif" font-size="2.1" text-anchor="middle" fill="#111">1 sample</text><circle cx="738.3" cy="212.30" r="2.1" fill="#f01414" stroke="#222" stroke-width="0.3"/><text x="741.6" y="213.80" font-family="Liberation Sans, Arial, sans-serif" font-size="4.7" fill="#333">NHJ</text><circle cx="738.3" cy="217.75" r="2.1" fill="#5cf032" stroke="#222" stroke-width="0.3"/><text x="741.6" y="219.25" font-family="Liberation Sans, Arial, sans-serif" font-size="4.7" fill="#333">SGS</text><circle cx="738.3" cy="223.20" r="2.1" fill="#2c0c9e" stroke="#222" stroke-width="0.3"/><text x="741.6" y="224.70" font-family="Liberation Sans, Arial, sans-serif" font-size="4.7" fill="#333">QHS</text><circle cx="738.3" cy="228.65" r="2.1" fill="#f4c02a" stroke="#222" stroke-width="0.3"/><text x="741.6" y="230.15" font-family="Liberation Sans, Arial, sans-serif" font-size="4.7" fill="#333">YUG</text><circle cx="738.3" cy="234.10" r="2.1" fill="#d43cf6" stroke="#222" stroke-width="0.3"/><text x="741.6" y="235.60" font-family="Liberation Sans, Arial, sans-serif" font-size="4.7" fill="#333">HUA</text><circle cx="738.3" cy="239.55" r="2.1" fill="#980000" stroke="#222" stroke-width="0.3"/><text x="741.6" y="241.05" font-family="Liberation Sans, Arial, sans-serif" font-size="4.7" fill="#333">JSZ</text><g fill="none" stroke="#1a1a1a" stroke-width="1.0" stroke-dasharray="6.2,4.9"><rect x="361.5" y="271.5" width="342.6" height="241.7"/></g><path d="M405.80,326.80L442.50,330.50M405.80,326.80L445.30,368.50M442.50,330.50L454.00,321.00M442.50,330.50L489.80,357.50M442.50,330.50L476.50,363.30M454.00,321.00L476.50,363.30M454.00,321.00L489.80,357.50M517.00,327.00L496.40,406.40M517.00,327.00L552.00,364.80M535.80,319.50L552.00,364.80M489.80,357.50L526.30,365.50M489.80,357.50L496.40,406.40M476.50,363.30L496.40,406.40M476.50,363.30L515.80,377.50M515.80,377.50L581.80,399.30M526.30,365.50L581.80,399.30M445.30,368.50L424.50,385.30M445.30,368.50L473.50,382.50M445.30,368.50L448.00,399.20M424.50,385.30L473.50,382.50M424.50,385.30L448.00,399.20M473.50,382.50L448.00,399.20M473.50,382.50L581.80,399.30M448.00,399.20L496.40,406.40M519.70,397.30L496.40,406.40M552.00,364.80L581.80,399.30M570.80,277.00L574.00,309.50M574.00,309.50L577.50,353.50M577.50,353.50L581.80,399.30M619.50,308.30L620.00,340.60M620.00,340.60L653.50,322.50M653.50,322.50L676.50,294.00M653.50,322.50L695.50,318.30M620.00,340.60L656.30,348.00M620.00,340.60L644.50,370.00M620.00,340.60L581.80,399.30M519.70,397.30L594.50,354.80M594.50,354.80L581.80,399.30M563.50,357.50L581.80,399.30M616.00,374.00L581.80,399.30M644.50,370.00L623.50,420.80M626.00,389.30L625.80,405.00M626.00,389.30L654.50,403.00M626.00,389.30L581.80,399.30M625.80,405.00L654.50,403.00M625.80,405.00L581.80,399.30M654.50,403.00L688.80,419.30M654.50,403.00L623.50,420.80M581.80,399.30L563.60,414.40M581.80,399.30L554.60,434.00M581.80,399.30L569.30,441.30M581.80,399.30L586.00,445.00M581.80,399.30L601.80,441.00M581.80,399.30L613.80,432.00M581.80,399.30L623.50,420.80M586.00,445.00L590.30,489.50M586.00,445.00L618.80,478.80M601.80,441.00L613.80,432.00M496.40,406.40L581.80,399.30M519.70,397.30L581.80,399.30M448.00,399.20L423.00,448.00M448.80,416.30L496.40,406.40M448.80,416.30L473.40,428.00M448.80,416.30L450.00,472.00M448.80,416.30L423.00,448.00M424.00,428.80L519.60,484.90M473.40,428.00L423.00,448.00M473.40,428.00L528.10,427.80M473.40,428.00L450.00,472.00M473.40,428.00L489.50,456.30M496.40,406.40L450.00,472.00M496.40,406.40L489.50,456.30M496.40,406.40L500.30,435.70M496.40,406.40L519.60,484.90M496.40,406.40L528.10,427.80M519.70,397.30L519.00,415.30M519.00,415.30L519.60,484.90M423.00,448.00L450.00,472.00M423.00,448.00L519.60,484.90M450.00,472.00L417.20,485.20M450.00,472.00L428.80,506.50M450.00,472.00L476.80,478.00M450.00,472.00L489.50,456.30M476.80,478.00L519.60,484.90M476.80,478.00L461.00,508.00M476.80,478.00L489.50,456.30M489.50,456.30L554.60,434.00M500.30,435.70L554.60,434.00M528.10,427.80L542.10,420.50M542.10,420.50L581.80,399.30M528.10,427.80L554.60,434.00M423.00,448.00L554.60,434.00M496.40,406.40L563.60,414.40M563.60,414.40L623.50,420.80" stroke="#000" stroke-width="0.9" fill="none"/><path d="M423.68,326.79L423.32,330.38M424.98,326.92L424.62,330.51M426.41,345.94L423.80,348.42M427.30,346.88L424.69,349.36M446.60,324.78L448.90,327.55M447.60,323.95L449.90,326.72M466.48,342.11L464.69,345.24M467.61,342.76L465.82,345.89M460.28,345.15L457.78,347.74M461.22,346.06L458.72,348.65M472.73,337.53L470.16,340.05M473.64,338.45L471.07,340.97M508.61,366.52L505.12,365.62M508.28,367.78L504.79,366.88M535.38,344.20L532.74,346.65M536.26,345.15L533.62,347.60M545.59,341.54L542.21,342.76M508.44,359.74L507.66,363.26M494.88,381.71L491.32,382.19M496.76,368.71L495.54,372.09M549.36,386.69L548.24,390.11M554.99,380.86L553.11,383.94M436.54,377.89L434.27,375.09M435.53,378.71L433.26,375.91M459.62,373.60L458.02,376.82M460.78,374.18L459.18,377.40M447.60,382.18L447.80,385.77M448.90,382.10L449.10,385.70M450.20,382.03L450.40,385.62M436.61,390.37L434.77,393.47M437.73,391.03L435.89,394.13M462.28,392.00L460.31,388.99M461.19,392.71L459.22,389.70M526.64,388.92L526.09,392.48M527.93,389.12L527.37,392.68M529.21,389.32L528.66,392.88M472.46,401.02L471.94,404.58M509.31,403.29L508.00,399.94M508.10,403.76L506.79,400.41M568.26,380.87L565.54,383.23M574.19,293.07L570.61,293.43M577.54,331.36L573.96,331.64M581.44,376.23L577.86,376.57M621.55,324.42L617.95,324.48M635.89,329.97L637.61,333.13M663.19,307.63L665.99,309.89M664.01,306.61L666.81,308.87M674.32,318.61L674.68,322.19M638.51,342.54L637.79,346.06M633.63,354.15L630.87,356.45M602.41,370.93L599.39,368.97M589.88,377.54L586.42,376.56M574.04,377.08L570.74,378.53M574.56,378.27L571.26,379.72M599.97,388.10L597.83,385.20M627.71,396.52L624.11,396.48M627.69,397.82L624.09,397.78M640.44,394.25L638.88,397.49M641.62,394.81L640.06,398.05M604.93,395.91L604.14,392.40M603.66,396.20L602.87,392.69M639.38,402.25L639.63,405.84M640.67,402.16L640.92,405.75M604.21,404.02L604.68,400.45M602.92,403.85L603.39,400.28M672.42,409.52L670.88,412.78M639.90,413.46L638.10,410.34M573.85,408.24L571.55,405.46M577.28,420.81L573.82,419.79M585.69,421.99L582.11,422.31M592.86,418.20L589.61,419.76M593.42,419.37L590.18,420.93M593.99,420.54L590.74,422.10M602.32,407.85L600.67,411.05M603.47,408.45L601.83,411.65M604.63,409.05L602.98,412.25M589.94,467.08L586.36,467.42M603.69,460.65L601.11,463.15M605.68,435.84L607.84,438.72M606.72,435.06L608.88,437.94M607.76,434.28L609.92,437.16M437.10,424.42L433.90,422.78M471.60,409.72L472.33,413.24M472.87,409.46L473.60,412.98M461.29,420.25L459.74,423.50M462.46,420.80L460.91,424.05M451.17,442.81L447.57,442.89M451.20,444.11L447.60,444.19M451.23,445.41L447.63,445.49M472.15,454.97L470.33,458.07M473.27,455.63L471.45,458.73M500.09,426.10L500.11,429.70M501.39,426.10L501.41,429.70M463.90,449.70L460.72,448.01M463.29,450.85L460.11,449.15M462.68,451.99L459.50,450.30M482.69,440.69L479.56,442.48M483.34,441.82L480.21,443.61M475.42,439.18L472.48,437.10M474.67,440.24L471.73,438.16M473.92,441.30L470.98,439.22M494.82,430.95L491.26,430.46M494.64,432.24L491.08,431.75M513.26,415.61L511.24,418.59M521.15,406.37L517.55,406.23M437.21,458.22L434.82,460.91M438.18,459.09L435.79,461.78M434.27,480.27L432.93,476.93M442.64,487.42L439.57,485.54M441.95,488.53L438.89,486.65M441.27,489.64L438.21,487.75M440.59,490.75L437.53,488.86M439.91,491.85L436.85,489.97M439.23,492.96L436.16,491.08M462.52,472.96L461.74,476.47M463.79,473.24L463.01,476.76M465.06,473.53L464.28,477.04M467.88,462.96L469.21,466.30M469.09,462.48L470.41,465.82M470.29,462.00L471.62,465.34M498.49,479.67L497.91,483.23M470.49,493.84L467.31,492.16M520.85,443.66L522.02,447.06M522.08,443.24L523.25,446.64M534.27,422.55L535.93,425.75M561.10,408.31L562.80,411.49M528.92,408.46L528.50,412.03M530.21,408.61L529.79,412.19M531.50,408.77L531.08,412.34" stroke="#000" stroke-width="0.9" fill="none"/><circle cx="405.80" cy="326.80" r="2.80" fill="#5cf032" stroke="#111" stroke-width="0.45"/><circle cx="442.50" cy="330.50" r="2.80" fill="#5cf032" stroke="#111" stroke-width="0.45"/><circle cx="454.00" cy="321.00" r="2.80" fill="#5cf032" stroke="#111" stroke-width="0.45"/><circle cx="517.00" cy="327.00" r="2.80" fill="#5cf032" stroke="#111" stroke-width="0.45"/><circle cx="535.80" cy="319.50" r="2.80" fill="#2c0c9e" stroke="#111" stroke-width="0.45"/><circle cx="489.80" cy="357.50" r="2.80" fill="#f01414" stroke="#111" stroke-width="0.45"/><circle cx="476.50" cy="363.30" r="2.80" fill="#5cf032" stroke="#111" stroke-width="0.45"/><circle cx="445.30" cy="368.50" r="2.80" fill="#f01414" stroke="#111" stroke-width="0.45"/><circle cx="526.30" cy="365.50" r="2.80" fill="#980000" stroke="#111" stroke-width="0.45"/><circle cx="552.00" cy="364.80" r="3.80" fill="#5cf032" stroke="#111" stroke-width="0.45"/><circle cx="515.80" cy="377.50" r="2.80" fill="#5cf032" stroke="#111" stroke-width="0.45"/><circle cx="473.50" cy="382.50" r="2.80" fill="#5cf032" stroke="#111" stroke-width="0.45"/><circle cx="424.50" cy="385.30" r="2.80" fill="#980000" stroke="#111" stroke-width="0.45"/><circle cx="448.00" cy="399.20" r="2.80" fill="#5cf032" stroke="#111" stroke-width="0.45"/><path d="M496.40,406.40L492.40,406.40A4.00,4.00 0 0 1 500.40,406.40Z" fill="#5cf032" stroke="#222" stroke-width="0.27"/><path d="M496.40,406.40L500.40,406.40A4.00,4.00 0 0 1 492.40,406.40Z" fill="#980000" stroke="#222" stroke-width="0.27"/><circle cx="496.40" cy="406.40" r="4.00" fill="none" stroke="#111" stroke-width="0.45"/><circle cx="519.70" cy="397.30" r="2.80" fill="#5cf032" stroke="#111" stroke-width="0.45"/><circle cx="570.80" cy="277.00" r="2.80" fill="#5cf032" stroke="#111" stroke-width="0.45"/><path d="M574.00,309.50L572.36,314.01A4.80,4.80 0 1 1 578.51,311.14Z" fill="#f01414" stroke="#222" stroke-width="0.27"/><path d="M574.00,309.50L578.51,311.14A4.80,4.80 0 0 1 572.36,314.01Z" fill="#980000" stroke="#222" stroke-width="0.27"/><circle cx="574.00" cy="309.50" r="4.80" fill="none" stroke="#111" stroke-width="0.45"/><circle cx="619.50" cy="308.30" r="2.80" fill="#d43cf6" stroke="#111" stroke-width="0.45"/><path d="M620.00,340.60L618.01,348.04A7.70,7.70 0 1 1 625.44,335.16Z" fill="#d43cf6" stroke="#222" stroke-width="0.27"/><path d="M620.00,340.60L625.44,335.16A7.70,7.70 0 0 1 627.67,341.27Z" fill="#2c0c9e" stroke="#222" stroke-width="0.27"/><path d="M620.00,340.60L627.67,341.27A7.70,7.70 0 0 1 618.01,348.04Z" fill="#980000" stroke="#222" stroke-width="0.27"/><circle cx="620.00" cy="340.60" r="7.70" fill="none" stroke="#111" stroke-width="0.45"/><circle cx="653.50" cy="322.50" r="2.80" fill="#5cf032" stroke="#111" stroke-width="0.45"/><circle cx="676.50" cy="294.00" r="2.80" fill="#f4c02a" stroke="#111" stroke-width="0.45"/><circle cx="695.50" cy="318.30" r="2.80" fill="#d43cf6" stroke="#111" stroke-width="0.45"/><circle cx="656.30" cy="348.00" r="2.80" fill="#5cf032" stroke="#111" stroke-width="0.45"/><circle cx="577.50" cy="353.50" r="2.80" fill="#d43cf6" stroke="#111" stroke-width="0.45"/><circle cx="594.50" cy="354.80" r="2.80" fill="#5cf032" stroke="#111" stroke-width="0.45"/><circle cx="563.50" cy="357.50" r="2.80" fill="#980000" stroke="#111" stroke-width="0.45"/><circle cx="616.00" cy="374.00" r="2.80" fill="#5cf032" stroke="#111" stroke-width="0.45"/><circle cx="644.50" cy="370.00" r="2.80" fill="#980000" stroke="#111" stroke-width="0.45"/><circle cx="626.00" cy="389.30" r="2.80" fill="#980000" stroke="#111" stroke-width="0.45"/><circle cx="654.50" cy="403.00" r="2.80" fill="#f01414" stroke="#111" stroke-width="0.45"/><path d="M581.80,399.30L573.91,396.43A8.40,8.40 0 0 1 588.68,394.48Z" fill="#5cf032" stroke="#222" stroke-width="0.27"/><path d="M581.80,399.30L588.68,394.48A8.40,8.40 0 0 1 590.17,398.57Z" fill="#f01414" stroke="#222" stroke-width="0.27"/><path d="M581.80,399.30L590.17,398.57A8.40,8.40 0 0 1 581.80,407.70Z" fill="#980000" stroke="#222" stroke-width="0.27"/><path d="M581.80,399.30L581.80,407.70A8.40,8.40 0 0 1 573.91,396.43Z" fill="#2c0c9e" stroke="#222" stroke-width="0.27"/><circle cx="581.80" cy="399.30" r="8.40" fill="none" stroke="#111" stroke-width="0.45"/><circle cx="625.80" cy="405.00" r="2.80" fill="#980000" stroke="#111" stroke-width="0.45"/><path d="M688.80,419.30L684.80,419.30A4.00,4.00 0 0 1 692.80,419.30Z" fill="#5cf032" stroke="#222" stroke-width="0.27"/><path d="M688.80,419.30L692.80,419.30A4.00,4.00 0 0 1 684.80,419.30Z" fill="#980000" stroke="#222" stroke-width="0.27"/><circle cx="688.80" cy="419.30" r="4.00" fill="none" stroke="#111" stroke-width="0.45"/><circle cx="563.60" cy="414.40" r="2.80" fill="#f01414" stroke="#111" stroke-width="0.45"/><path d="M623.50,420.80L619.50,420.80A4.00,4.00 0 0 1 627.50,420.80Z" fill="#2c0c9e" stroke="#222" stroke-width="0.27"/><path d="M623.50,420.80L627.50,420.80A4.00,4.00 0 0 1 619.50,420.80Z" fill="#f4c02a" stroke="#222" stroke-width="0.27"/><circle cx="623.50" cy="420.80" r="4.00" fill="none" stroke="#111" stroke-width="0.45"/><circle cx="542.10" cy="420.50" r="2.80" fill="#f4c02a" stroke="#111" stroke-width="0.45"/><circle cx="613.80" cy="432.00" r="2.80" fill="#5cf032" stroke="#111" stroke-width="0.45"/><circle cx="554.60" cy="434.00" r="4.40" fill="#d43cf6" stroke="#111" stroke-width="0.45"/><path d="M569.30,441.30L569.30,436.30A5.00,5.00 0 0 1 571.80,445.63Z" fill="#2c0c9e" stroke="#222" stroke-width="0.27"/><path d="M569.30,441.30L571.80,445.63A5.00,5.00 0 0 1 564.97,443.80Z" fill="#980000" stroke="#222" stroke-width="0.27"/><path d="M569.30,441.30L564.97,443.80A5.00,5.00 0 0 1 569.30,436.30Z" fill="#f4c02a" stroke="#222" stroke-width="0.27"/><circle cx="569.30" cy="441.30" r="5.00" fill="none" stroke="#111" stroke-width="0.45"/><circle cx="601.80" cy="441.00" r="2.80" fill="#980000" stroke="#111" stroke-width="0.45"/><circle cx="586.00" cy="445.00" r="4.00" fill="#d43cf6" stroke="#111" stroke-width="0.45"/><circle cx="618.80" cy="478.80" r="5.60" fill="#d43cf6" stroke="#111" stroke-width="0.45"/><circle cx="590.30" cy="489.50" r="4.00" fill="#d43cf6" stroke="#111" stroke-width="0.45"/><circle cx="448.80" cy="416.30" r="2.80" fill="#f01414" stroke="#111" stroke-width="0.45"/><circle cx="519.00" cy="415.30" r="2.80" fill="#980000" stroke="#111" stroke-width="0.45"/><circle cx="424.00" cy="428.80" r="2.80" fill="#d43cf6" stroke="#111" stroke-width="0.45"/><circle cx="473.40" cy="428.00" r="2.90" fill="#5cf032" stroke="#111" stroke-width="0.45"/><path d="M528.10,427.80L529.71,423.38A4.70,4.70 0 0 1 532.64,429.02Z" fill="#f01414" stroke="#222" stroke-width="0.27"/><path d="M528.10,427.80L532.64,429.02A4.70,4.70 0 1 1 529.71,423.38Z" fill="#5cf032" stroke="#222" stroke-width="0.27"/><circle cx="528.10" cy="427.80" r="4.70" fill="none" stroke="#111" stroke-width="0.45"/><circle cx="500.30" cy="435.70" r="2.80" fill="#2c0c9e" stroke="#111" stroke-width="0.45"/><circle cx="423.00" cy="448.00" r="2.80" fill="#5cf032" stroke="#111" stroke-width="0.45"/><circle cx="489.50" cy="456.30" r="2.80" fill="#980000" stroke="#111" stroke-width="0.45"/><circle cx="450.00" cy="472.00" r="2.80" fill="#d43cf6" stroke="#111" stroke-width="0.45"/><circle cx="476.80" cy="478.00" r="2.80" fill="#980000" stroke="#111" stroke-width="0.45"/><path d="M519.60,484.90L519.60,478.60A6.30,6.30 0 0 1 525.90,484.90Z" fill="#5cf032" stroke="#222" stroke-width="0.27"/><path d="M519.60,484.90L525.90,484.90A6.30,6.30 0 1 1 513.68,482.75Z" fill="#980000" stroke="#222" stroke-width="0.27"/><path d="M519.60,484.90L513.68,482.75A6.30,6.30 0 0 1 519.60,478.60Z" fill="#2c0c9e" stroke="#222" stroke-width="0.27"/><circle cx="519.60" cy="484.90" r="6.30" fill="none" stroke="#111" stroke-width="0.45"/><path d="M417.20,485.20L411.60,485.20A5.60,5.60 0 0 1 417.20,479.60Z" fill="#d43cf6" stroke="#222" stroke-width="0.27"/><path d="M417.20,485.20L417.20,479.60A5.60,5.60 0 0 1 422.80,485.20Z" fill="#2c0c9e" stroke="#222" stroke-width="0.27"/><path d="M417.20,485.20L422.80,485.20A5.60,5.60 0 0 1 411.60,485.20Z" fill="#980000" stroke="#222" stroke-width="0.27"/><circle cx="417.20" cy="485.20" r="5.60" fill="none" stroke="#111" stroke-width="0.45"/><path d="M428.80,506.50L424.90,506.50A3.90,3.90 0 0 1 432.70,506.50Z" fill="#f01414" stroke="#222" stroke-width="0.27"/><path d="M428.80,506.50L432.70,506.50A3.90,3.90 0 0 1 424.90,506.50Z" fill="#980000" stroke="#222" stroke-width="0.27"/><circle cx="428.80" cy="506.50" r="3.90" fill="none" stroke="#111" stroke-width="0.45"/><circle cx="461.00" cy="508.00" r="2.80" fill="#5cf032" stroke="#111" stroke-width="0.45"/><g font-family="Liberation Sans, Arial, sans-serif" font-size="5" fill="#111" stroke="#111" stroke-width="0.08"><text transform="translate(401.5 320.80) rotate(0.3)">Hap 56</text><text transform="translate(458.8 322.60) rotate(0.3)">Hap 50</text><text transform="translate(427.5 338.80) rotate(0.3)">Hap 57</text><text transform="translate(509.5 322.10) rotate(0.3)">Hap 14</text><text transform="translate(542 321.80) rotate(0.3)">Hap 12</text><text transform="translate(484.5 350.80) rotate(0.3)">Hap 44</text><text transform="translate(455.8 366.10) rotate(0.3)">Hap 49</text><text transform="translate(424.5 369.80) rotate(0.3)">Hap 60</text><text transform="translate(511 372.80) rotate(0.3)">Hap 45</text><text transform="translate(530 365.10) rotate(0.3)">Hap 13</text><text transform="translate(463.8 376.80) rotate(0.3)">Hap 47</text><text transform="translate(508 384.30) rotate(0.3)">Hap 19</text><text transform="translate(403.8 388.10) rotate(0.3)">Hap 46</text><text transform="translate(427 401.80) rotate(0.3)">Hap 48</text><text transform="translate(474.5 401.60) rotate(0.3)">Hap 55</text><text transform="translate(500.8 396.10) rotate(0.3)">Hap 42</text><text transform="translate(577 279.30) rotate(0.3)">Hap 22</text><text transform="translate(552.5 309.10) rotate(0.3)">Hap 21</text><text transform="translate(610.8 303.80) rotate(0.3)">Hap 41</text><text transform="translate(680.8 295.80) rotate(0.3)">Hap 38</text><text transform="translate(637 319.10) rotate(0.3)">Hap 36</text><text transform="translate(687 327.30) rotate(0.3)">Hap 37</text><text transform="translate(596.3 338.10) rotate(0.3)">Hap 39</text><text transform="translate(661.8 350.60) rotate(0.3)">Hap 40</text><text transform="translate(560 347.60) rotate(0.3)">Hap 11</text><text transform="translate(588 349.60) rotate(0.3)">hap 10</text><text transform="translate(550 353.80) rotate(0.3)">Hap 30</text><text transform="translate(610.8 369.80) rotate(0.3)">Hap 9</text><text transform="translate(649.5 372.60) rotate(0.3)">Hap 26</text><text transform="translate(615 385.10) rotate(0.3)">Hap 25</text><text transform="translate(659 402.30) rotate(0.3)">Hap 24</text><text transform="translate(551.3 406.80) rotate(0.3)">Hap 20</text><text transform="translate(606.5 411.10) rotate(0.3)">Hap 32</text><text transform="translate(683 429.80) rotate(0.3)">Hap 23</text><text transform="translate(547.7 422.00) rotate(0.3)">Hap 59</text><text transform="translate(544 427.80) rotate(0.3)">Hap 31</text><text transform="translate(629.5 425.80) rotate(0.3)">Hap 27</text><text transform="translate(618.8 435.60) rotate(0.3)">Hap 35</text><text transform="translate(545.8 443.10) rotate(0.3)">Hap 28</text><text transform="translate(561.3 452.60) rotate(0.3)">Hap 18</text><text transform="translate(606.3 445.10) rotate(0.3)">Hap 34</text><text transform="translate(591.8 450.10) rotate(0.3)">Hap 17</text><text transform="translate(625.8 480.60) rotate(0.3)">Hap 15</text><text transform="translate(568.8 491.80) rotate(0.3)">Hap 16</text><text transform="translate(444.3 412.30) rotate(0.3)">Hap 61</text><text transform="translate(523.8 417.60) rotate(0.3)">Hap 4</text><text transform="translate(406.8 431.30) rotate(0.3)">Hap 2</text><text transform="translate(451.3 429.80) rotate(0.3)">Hap 59</text><text transform="translate(535 431.30) rotate(0.3)">Hap 8</text><text transform="translate(498.8 443.10) rotate(0.3)">Hap 51</text><text transform="translate(405 450.10) rotate(0.3)">Hap 1</text><text transform="translate(493.3 461.80) rotate(0.3)">Hap 54</text><text transform="translate(428 472.60) rotate(0.3)">Hap 53</text><text transform="translate(477 486.10) rotate(0.3)">Hap 5</text><text transform="translate(406.8 496.80) rotate(0.3)">Hap 52</text><text transform="translate(514.5 497.30) rotate(0.3)">Hap 3</text><text transform="translate(434.3 509.30) rotate(0.3)">Hap 62</text><text transform="translate(465.8 509.80) rotate(0.3)">Hap 6</text></g><text x="365.6" y="525.2" font-family="Liberation Sans, Arial, sans-serif" font-size="11.6" font-weight="bold" fill="#111">(c)</text><rect x="709" y="429.3" width="30.4" height="82.7" fill="#fff" stroke="#333" stroke-width="0.6"/><circle cx="724" cy="444" r="8.8" fill="#fff" stroke="#222" stroke-width="0.6"/><circle cx="723.7" cy="449.6" r="2.2" fill="#fff" stroke="#222" stroke-width="0.6"/><text x="724" y="445.3" font-family="Liberation Sans, Arial, sans-serif" font-size="3.4" text-anchor="middle" fill="#111">8 samples</text><text x="723.7" y="456.6" font-family="Liberation Sans, Arial, sans-serif" font-size="3.2" text-anchor="middle" fill="#111">1 sample</text><circle cx="717.3" cy="464.20" r="3.0" fill="#f01414" stroke="#222" stroke-width="0.4"/><text x="725.6" y="466.20" font-family="Liberation Sans, Arial, sans-serif" font-size="4.9" fill="#333">NHJ</text><circle cx="717.3" cy="471.76" r="3.0" fill="#5cf032" stroke="#222" stroke-width="0.4"/><text x="725.6" y="473.76" font-family="Liberation Sans, Arial, sans-serif" font-size="4.9" fill="#333">SGS</text><circle cx="717.3" cy="479.32" r="3.0" fill="#2c0c9e" stroke="#222" stroke-width="0.4"/><text x="725.6" y="481.32" font-family="Liberation Sans, Arial, sans-serif" font-size="4.9" fill="#333">QHS</text><circle cx="717.3" cy="486.88" r="3.0" fill="#f4c02a" stroke="#222" stroke-width="0.4"/><text x="725.6" y="488.88" font-family="Liberation Sans, Arial, sans-serif" font-size="4.9" fill="#333">YUG</text><circle cx="717.3" cy="494.44" r="3.0" fill="#d43cf6" stroke="#222" stroke-width="0.4"/><text x="725.6" y="496.44" font-family="Liberation Sans, Arial, sans-serif" font-size="4.9" fill="#333">HUA</text><circle cx="717.3" cy="502.00" r="3.0" fill="#980000" stroke="#222" stroke-width="0.4"/><text x="725.6" y="504.00" font-family="Liberation Sans, Arial, sans-serif" font-size="4.9" fill="#333">JSZ</text>
</svg></body></html>
